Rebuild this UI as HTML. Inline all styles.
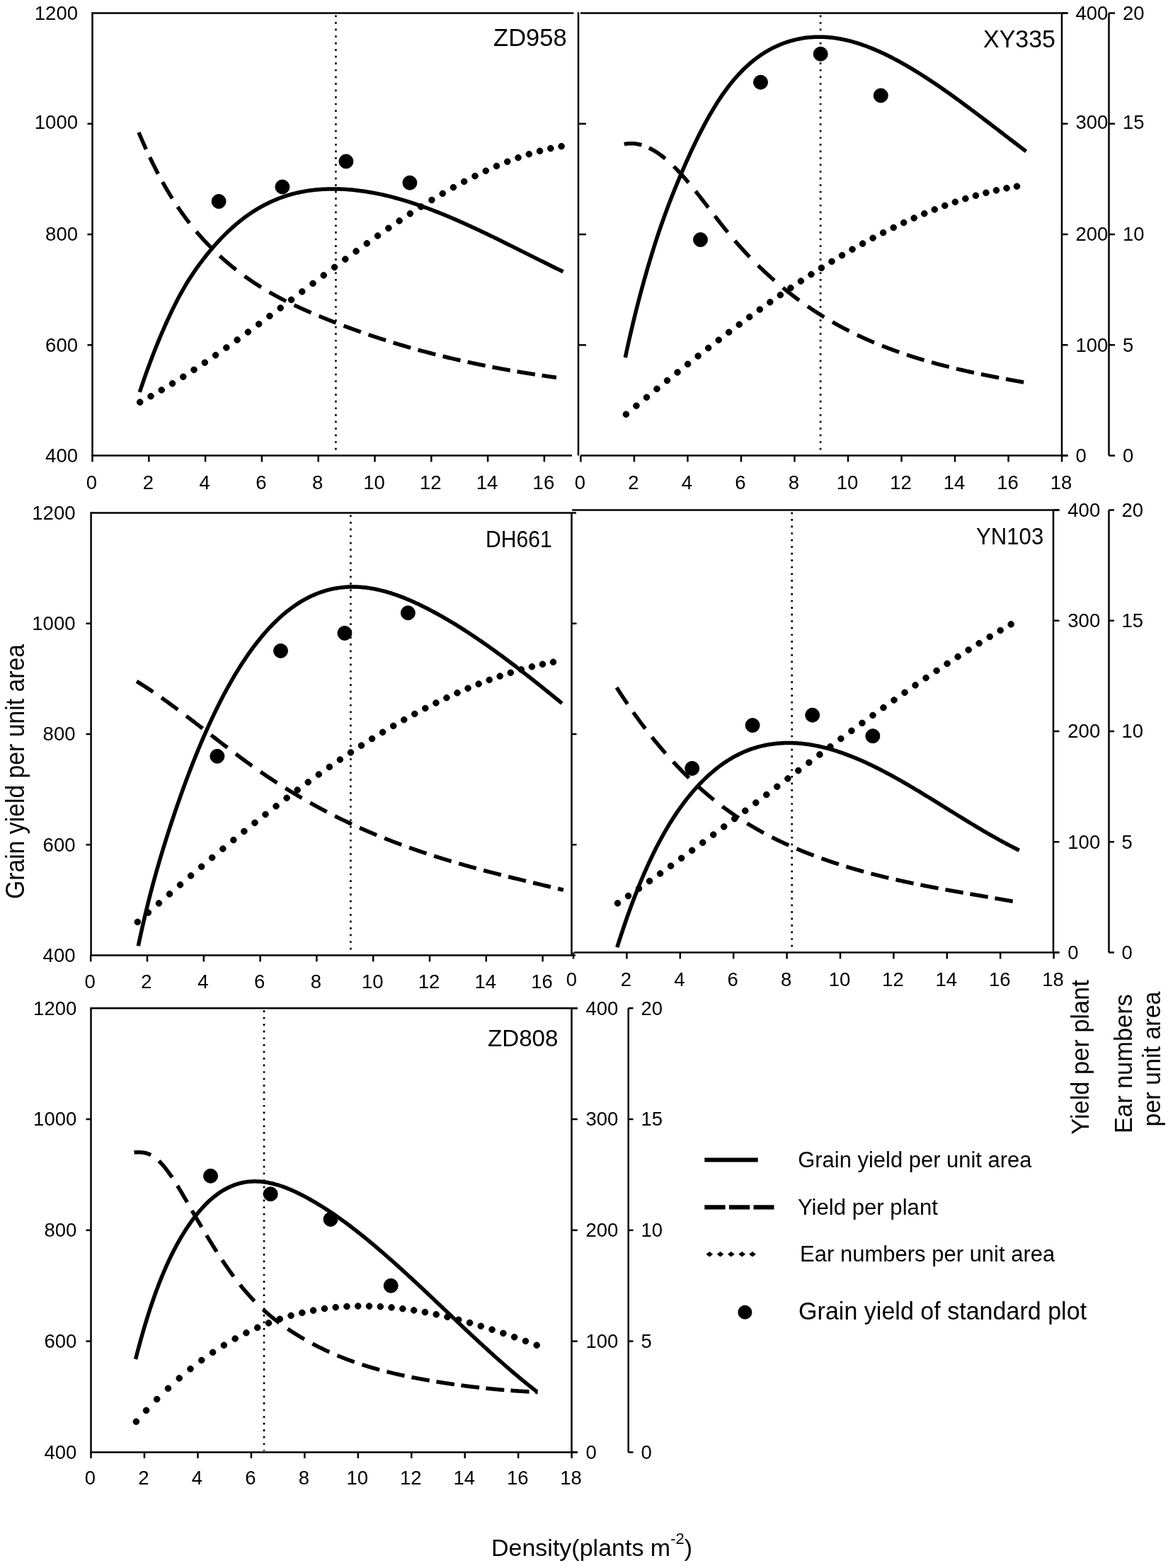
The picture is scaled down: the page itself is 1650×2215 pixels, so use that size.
<!DOCTYPE html>
<html><head><meta charset="utf-8"><title>Grain yield vs density</title>
<style>html,body{margin:0;padding:0;background:#fff;}svg{display:block;}</style></head>
<body><svg xmlns="http://www.w3.org/2000/svg" width="1650" height="2215" viewBox="0 0 1650 2215">
<rect width="1650" height="2215" fill="#fff"/>
<g stroke="#000" stroke-linecap="butt">
<line x1="130.50" y1="18.50" x2="810.30" y2="18.50" stroke-width="2.5"/>
<line x1="130.50" y1="17.30" x2="130.50" y2="644.80" stroke-width="2.5"/>
<line x1="129.30" y1="643.60" x2="808.00" y2="643.60" stroke-width="2.5"/>
<line x1="817.00" y1="17.30" x2="817.00" y2="643.60" stroke-width="2.5"/>
<line x1="123.50" y1="174.80" x2="130.50" y2="174.80" stroke-width="2.5"/>
<line x1="817.00" y1="174.80" x2="828.00" y2="174.80" stroke-width="2.5"/>
<line x1="123.50" y1="331.10" x2="130.50" y2="331.10" stroke-width="2.5"/>
<line x1="817.00" y1="331.10" x2="828.00" y2="331.10" stroke-width="2.5"/>
<line x1="123.50" y1="487.40" x2="130.50" y2="487.40" stroke-width="2.5"/>
<line x1="817.00" y1="487.40" x2="828.00" y2="487.40" stroke-width="2.5"/>
<line x1="130.50" y1="643.60" x2="130.50" y2="652.50" stroke-width="2.5"/>
<line x1="210.30" y1="643.60" x2="210.30" y2="652.50" stroke-width="2.5"/>
<line x1="290.10" y1="643.60" x2="290.10" y2="652.50" stroke-width="2.5"/>
<line x1="369.90" y1="643.60" x2="369.90" y2="652.50" stroke-width="2.5"/>
<line x1="449.70" y1="643.60" x2="449.70" y2="652.50" stroke-width="2.5"/>
<line x1="529.50" y1="643.60" x2="529.50" y2="652.50" stroke-width="2.5"/>
<line x1="609.30" y1="643.60" x2="609.30" y2="652.50" stroke-width="2.5"/>
<line x1="689.10" y1="643.60" x2="689.10" y2="652.50" stroke-width="2.5"/>
<line x1="768.90" y1="643.60" x2="768.90" y2="652.50" stroke-width="2.5"/>
<line x1="820.00" y1="18.50" x2="1508.50" y2="18.50" stroke-width="2.5"/>
<line x1="1500.00" y1="18.50" x2="1500.00" y2="643.60" stroke-width="2.5"/>
<line x1="820.00" y1="643.60" x2="1508.50" y2="643.60" stroke-width="2.5"/>
<line x1="820.40" y1="643.60" x2="820.40" y2="652.50" stroke-width="2.5"/>
<line x1="895.92" y1="643.60" x2="895.92" y2="652.50" stroke-width="2.5"/>
<line x1="971.44" y1="643.60" x2="971.44" y2="652.50" stroke-width="2.5"/>
<line x1="1046.96" y1="643.60" x2="1046.96" y2="652.50" stroke-width="2.5"/>
<line x1="1122.48" y1="643.60" x2="1122.48" y2="652.50" stroke-width="2.5"/>
<line x1="1198.00" y1="643.60" x2="1198.00" y2="652.50" stroke-width="2.5"/>
<line x1="1273.52" y1="643.60" x2="1273.52" y2="652.50" stroke-width="2.5"/>
<line x1="1349.04" y1="643.60" x2="1349.04" y2="652.50" stroke-width="2.5"/>
<line x1="1424.56" y1="643.60" x2="1424.56" y2="652.50" stroke-width="2.5"/>
<line x1="1500.08" y1="643.60" x2="1500.08" y2="652.50" stroke-width="2.5"/>
<line x1="1500.00" y1="18.50" x2="1508.50" y2="18.50" stroke-width="2.5"/>
<line x1="1566.50" y1="18.50" x2="1575.00" y2="18.50" stroke-width="2.5"/>
<line x1="1500.00" y1="174.78" x2="1508.50" y2="174.78" stroke-width="2.5"/>
<line x1="1566.50" y1="174.78" x2="1575.00" y2="174.78" stroke-width="2.5"/>
<line x1="1500.00" y1="331.05" x2="1508.50" y2="331.05" stroke-width="2.5"/>
<line x1="1566.50" y1="331.05" x2="1575.00" y2="331.05" stroke-width="2.5"/>
<line x1="1500.00" y1="487.33" x2="1508.50" y2="487.33" stroke-width="2.5"/>
<line x1="1566.50" y1="487.33" x2="1575.00" y2="487.33" stroke-width="2.5"/>
<line x1="1500.00" y1="643.60" x2="1508.50" y2="643.60" stroke-width="2.5"/>
<line x1="1566.50" y1="643.60" x2="1575.00" y2="643.60" stroke-width="2.5"/>
<line x1="1566.50" y1="18.50" x2="1566.50" y2="643.60" stroke-width="2.5"/>
<line x1="128.60" y1="724.50" x2="814.00" y2="724.50" stroke-width="2.5"/>
<line x1="128.60" y1="723.30" x2="128.60" y2="1350.70" stroke-width="2.5"/>
<line x1="127.40" y1="1349.50" x2="813.00" y2="1349.50" stroke-width="2.5"/>
<line x1="807.50" y1="724.50" x2="807.50" y2="1349.50" stroke-width="2.5"/>
<line x1="121.50" y1="880.75" x2="128.60" y2="880.75" stroke-width="2.5"/>
<line x1="807.50" y1="880.75" x2="814.50" y2="880.75" stroke-width="2.5"/>
<line x1="121.50" y1="1037.00" x2="128.60" y2="1037.00" stroke-width="2.5"/>
<line x1="807.50" y1="1037.00" x2="814.50" y2="1037.00" stroke-width="2.5"/>
<line x1="121.50" y1="1193.25" x2="128.60" y2="1193.25" stroke-width="2.5"/>
<line x1="807.50" y1="1193.25" x2="814.50" y2="1193.25" stroke-width="2.5"/>
<line x1="128.20" y1="1349.50" x2="128.20" y2="1358.50" stroke-width="2.5"/>
<line x1="208.00" y1="1349.50" x2="208.00" y2="1358.50" stroke-width="2.5"/>
<line x1="287.80" y1="1349.50" x2="287.80" y2="1358.50" stroke-width="2.5"/>
<line x1="367.60" y1="1349.50" x2="367.60" y2="1358.50" stroke-width="2.5"/>
<line x1="447.40" y1="1349.50" x2="447.40" y2="1358.50" stroke-width="2.5"/>
<line x1="527.20" y1="1349.50" x2="527.20" y2="1358.50" stroke-width="2.5"/>
<line x1="607.00" y1="1349.50" x2="607.00" y2="1358.50" stroke-width="2.5"/>
<line x1="686.80" y1="1349.50" x2="686.80" y2="1358.50" stroke-width="2.5"/>
<line x1="766.60" y1="1349.50" x2="766.60" y2="1358.50" stroke-width="2.5"/>
<line x1="808.20" y1="720.50" x2="1496.50" y2="720.50" stroke-width="2.5"/>
<line x1="1488.00" y1="720.50" x2="1488.00" y2="1345.50" stroke-width="2.5"/>
<line x1="811.00" y1="1345.50" x2="1496.50" y2="1345.50" stroke-width="2.5"/>
<line x1="810.00" y1="1345.50" x2="810.00" y2="1354.50" stroke-width="2.5"/>
<line x1="885.40" y1="1345.50" x2="885.40" y2="1354.50" stroke-width="2.5"/>
<line x1="960.80" y1="1345.50" x2="960.80" y2="1354.50" stroke-width="2.5"/>
<line x1="1036.20" y1="1345.50" x2="1036.20" y2="1354.50" stroke-width="2.5"/>
<line x1="1111.60" y1="1345.50" x2="1111.60" y2="1354.50" stroke-width="2.5"/>
<line x1="1187.00" y1="1345.50" x2="1187.00" y2="1354.50" stroke-width="2.5"/>
<line x1="1262.40" y1="1345.50" x2="1262.40" y2="1354.50" stroke-width="2.5"/>
<line x1="1337.80" y1="1345.50" x2="1337.80" y2="1354.50" stroke-width="2.5"/>
<line x1="1413.20" y1="1345.50" x2="1413.20" y2="1354.50" stroke-width="2.5"/>
<line x1="1488.60" y1="1345.50" x2="1488.60" y2="1354.50" stroke-width="2.5"/>
<line x1="1488.00" y1="720.50" x2="1496.50" y2="720.50" stroke-width="2.5"/>
<line x1="1566.50" y1="720.50" x2="1574.00" y2="720.50" stroke-width="2.5"/>
<line x1="1488.00" y1="876.75" x2="1496.50" y2="876.75" stroke-width="2.5"/>
<line x1="1566.50" y1="876.75" x2="1574.00" y2="876.75" stroke-width="2.5"/>
<line x1="1488.00" y1="1033.00" x2="1496.50" y2="1033.00" stroke-width="2.5"/>
<line x1="1566.50" y1="1033.00" x2="1574.00" y2="1033.00" stroke-width="2.5"/>
<line x1="1488.00" y1="1189.25" x2="1496.50" y2="1189.25" stroke-width="2.5"/>
<line x1="1566.50" y1="1189.25" x2="1574.00" y2="1189.25" stroke-width="2.5"/>
<line x1="1488.00" y1="1345.50" x2="1496.50" y2="1345.50" stroke-width="2.5"/>
<line x1="1566.50" y1="1345.50" x2="1574.00" y2="1345.50" stroke-width="2.5"/>
<line x1="1566.50" y1="720.50" x2="1566.50" y2="1345.50" stroke-width="2.5"/>
<line x1="128.50" y1="1424.20" x2="815.80" y2="1424.20" stroke-width="2.5"/>
<line x1="128.50" y1="1423.00" x2="128.50" y2="2052.70" stroke-width="2.5"/>
<line x1="127.30" y1="2051.50" x2="815.80" y2="2051.50" stroke-width="2.5"/>
<line x1="807.50" y1="1424.20" x2="807.50" y2="2051.50" stroke-width="2.5"/>
<line x1="121.50" y1="1581.03" x2="128.50" y2="1581.03" stroke-width="2.5"/>
<line x1="121.50" y1="1737.85" x2="128.50" y2="1737.85" stroke-width="2.5"/>
<line x1="121.50" y1="1894.68" x2="128.50" y2="1894.68" stroke-width="2.5"/>
<line x1="128.50" y1="2051.50" x2="128.50" y2="2060.00" stroke-width="2.5"/>
<line x1="203.96" y1="2051.50" x2="203.96" y2="2060.00" stroke-width="2.5"/>
<line x1="279.42" y1="2051.50" x2="279.42" y2="2060.00" stroke-width="2.5"/>
<line x1="354.88" y1="2051.50" x2="354.88" y2="2060.00" stroke-width="2.5"/>
<line x1="430.34" y1="2051.50" x2="430.34" y2="2060.00" stroke-width="2.5"/>
<line x1="505.80" y1="2051.50" x2="505.80" y2="2060.00" stroke-width="2.5"/>
<line x1="581.26" y1="2051.50" x2="581.26" y2="2060.00" stroke-width="2.5"/>
<line x1="656.72" y1="2051.50" x2="656.72" y2="2060.00" stroke-width="2.5"/>
<line x1="732.18" y1="2051.50" x2="732.18" y2="2060.00" stroke-width="2.5"/>
<line x1="807.64" y1="2051.50" x2="807.64" y2="2060.00" stroke-width="2.5"/>
<line x1="807.50" y1="1424.20" x2="815.80" y2="1424.20" stroke-width="2.5"/>
<line x1="887.70" y1="1424.20" x2="894.50" y2="1424.20" stroke-width="2.5"/>
<line x1="807.50" y1="1581.03" x2="815.80" y2="1581.03" stroke-width="2.5"/>
<line x1="887.70" y1="1581.03" x2="894.50" y2="1581.03" stroke-width="2.5"/>
<line x1="807.50" y1="1737.85" x2="815.80" y2="1737.85" stroke-width="2.5"/>
<line x1="887.70" y1="1737.85" x2="894.50" y2="1737.85" stroke-width="2.5"/>
<line x1="807.50" y1="1894.67" x2="815.80" y2="1894.67" stroke-width="2.5"/>
<line x1="887.70" y1="1894.67" x2="894.50" y2="1894.67" stroke-width="2.5"/>
<line x1="807.50" y1="2051.50" x2="815.80" y2="2051.50" stroke-width="2.5"/>
<line x1="887.70" y1="2051.50" x2="894.50" y2="2051.50" stroke-width="2.5"/>
<line x1="887.70" y1="1424.20" x2="887.70" y2="2051.50" stroke-width="2.5"/>
</g>
<g stroke="#000" fill="#000">
<line x1="474.40" y1="21.50" x2="474.40" y2="641.60" stroke-width="2.7" stroke-dasharray="2.7 6.85"/>
<circle cx="197.70" cy="568.09" r="4.3"/>
<circle cx="213.00" cy="559.73" r="4.3"/>
<circle cx="228.25" cy="550.96" r="4.3"/>
<circle cx="243.55" cy="541.77" r="4.3"/>
<circle cx="258.79" cy="532.24" r="4.3"/>
<circle cx="274.04" cy="522.38" r="4.3"/>
<circle cx="289.34" cy="512.18" r="4.3"/>
<circle cx="304.59" cy="501.74" r="4.3"/>
<circle cx="319.84" cy="491.06" r="4.3"/>
<circle cx="335.14" cy="480.13" r="4.3"/>
<circle cx="350.39" cy="469.05" r="4.3"/>
<circle cx="365.64" cy="457.83" r="4.3"/>
<circle cx="380.93" cy="446.44" r="4.3"/>
<circle cx="396.18" cy="435.01" r="4.3"/>
<circle cx="411.48" cy="423.47" r="4.3"/>
<circle cx="426.73" cy="411.95" r="4.3"/>
<circle cx="441.98" cy="400.43" r="4.3"/>
<circle cx="457.28" cy="388.91" r="4.3"/>
<circle cx="472.53" cy="377.49" r="4.3"/>
<circle cx="487.78" cy="366.16" r="4.3"/>
<circle cx="503.07" cy="354.92" r="4.3"/>
<circle cx="518.32" cy="343.88" r="4.3"/>
<circle cx="533.57" cy="333.02" r="4.3"/>
<circle cx="548.87" cy="322.34" r="4.3"/>
<circle cx="564.12" cy="311.95" r="4.3"/>
<circle cx="579.37" cy="301.84" r="4.3"/>
<circle cx="594.67" cy="292.00" r="4.3"/>
<circle cx="609.92" cy="282.54" r="4.3"/>
<circle cx="625.21" cy="273.42" r="4.3"/>
<circle cx="640.46" cy="264.73" r="4.3"/>
<circle cx="655.71" cy="256.48" r="4.3"/>
<circle cx="671.01" cy="248.66" r="4.3"/>
<circle cx="686.26" cy="241.36" r="4.3"/>
<circle cx="701.51" cy="234.59" r="4.3"/>
<circle cx="716.81" cy="228.35" r="4.3"/>
<circle cx="732.06" cy="222.72" r="4.3"/>
<circle cx="747.30" cy="217.70" r="4.3"/>
<circle cx="762.60" cy="213.32" r="4.3"/>
<circle cx="777.85" cy="209.63" r="4.3"/>
<circle cx="793.10" cy="206.65" r="4.3"/>
<path d="M196.00,187.06 L197.00,189.45 L198.00,191.81 L199.00,194.16 L200.00,196.48 L201.00,198.79 L202.00,201.07 L203.00,203.34 L204.00,205.59 L205.00,207.82 L206.00,210.03 L206.40,210.91 M211.60,222.07 L212.60,224.16 L213.60,226.24 L214.60,228.29 L215.60,230.33 L216.60,232.35 L217.60,234.35 L218.60,236.34 L219.60,238.31 L220.60,240.26 L221.60,242.19 L222.60,244.11 L223.40,245.63 M229.60,257.08 L230.60,258.87 L231.60,260.64 L232.60,262.40 L233.60,264.14 L234.60,265.86 L235.60,267.58 L236.60,269.27 L237.60,270.95 L238.60,272.62 L239.60,274.27 L240.60,275.91 L241.60,277.53 L242.60,279.14 L243.35,280.34 M251.00,292.11 L252.00,293.59 L253.00,295.06 L254.00,296.51 L255.00,297.95 L256.00,299.38 L257.00,300.80 L258.00,302.20 L259.00,303.59 L260.00,304.97 L261.00,306.34 L262.00,307.70 L263.00,309.04 L264.00,310.37 L265.00,311.69 L266.00,313.00 L267.00,314.30 L267.65,315.14 M277.35,327.09 L278.35,328.26 L279.35,329.43 L280.35,330.59 L281.35,331.74 L282.35,332.87 L283.35,334.00 L284.35,335.12 L285.35,336.23 L286.35,337.33 L287.35,338.43 L288.35,339.51 L289.35,340.58 L290.35,341.65 L291.35,342.71 L292.35,343.76 L293.35,344.80 L294.35,345.83 L295.35,346.86 L296.35,347.88 L297.35,348.89 L298.35,349.89 L298.50,350.04 M310.55,361.55 L311.55,362.47 L312.55,363.37 L313.55,364.27 L314.55,365.17 L315.55,366.06 L316.55,366.94 L317.55,367.82 L318.55,368.69 L319.55,369.56 L320.55,370.42 L321.55,371.27 L322.55,372.12 L323.55,372.96 L324.55,373.80 L325.55,374.63 L326.55,375.45 L327.55,376.27 L328.55,377.09 L329.55,377.90 L330.55,378.70 L331.55,379.50 L332.55,380.29 L333.55,381.08 L333.60,381.12 M345.55,390.13 L346.55,390.85 L347.55,391.57 L348.55,392.28 L349.55,392.98 L350.55,393.69 L351.55,394.38 L352.55,395.08 L353.55,395.77 L354.55,396.45 L355.55,397.13 L356.55,397.80 L357.55,398.47 L358.55,399.14 L359.55,399.80 L360.55,400.46 L361.55,401.11 L362.55,401.76 L363.55,402.40 L364.55,403.04 L365.55,403.68 L366.55,404.31 L367.55,404.94 L368.55,405.56 L368.85,405.75 M380.55,412.74 L381.55,413.32 L382.55,413.89 L383.55,414.46 L384.55,415.02 L385.55,415.58 L386.55,416.14 L387.55,416.69 L388.55,417.24 L389.55,417.79 L390.55,418.33 L391.55,418.87 L392.55,419.41 L393.55,419.94 L394.55,420.47 L395.55,421.00 L396.55,421.53 L397.55,422.05 L398.55,422.57 L399.55,423.08 L400.55,423.60 L401.55,424.11 L402.55,424.61 L403.55,425.12 L404.20,425.45 M415.55,430.97 L416.55,431.44 L417.55,431.91 L418.55,432.38 L419.55,432.84 L420.55,433.31 L421.55,433.77 L422.55,434.23 L423.55,434.68 L424.55,435.14 L425.55,435.59 L426.55,436.04 L427.55,436.49 L428.55,436.94 L429.55,437.38 L430.55,437.83 L431.55,438.27 L432.55,438.71 L433.55,439.15 L434.55,439.58 L435.55,440.02 L436.55,440.45 L437.55,440.88 L438.55,441.31 L439.45,441.70 M450.55,446.37 L451.55,446.79 L452.55,447.20 L453.55,447.61 L454.55,448.02 L455.55,448.43 L456.55,448.84 L457.55,449.25 L458.55,449.65 L459.55,450.06 L460.55,450.46 L461.55,450.87 L462.55,451.27 L463.55,451.67 L464.55,452.07 L465.55,452.47 L466.55,452.86 L467.55,453.26 L468.55,453.66 L469.55,454.05 L470.55,454.44 L471.55,454.83 L472.55,455.23 L473.55,455.61 L474.55,456.00 L474.65,456.04 M485.55,460.21 L486.55,460.58 L487.55,460.96 L488.55,461.33 L489.55,461.70 L490.55,462.08 L491.55,462.45 L492.55,462.82 L493.55,463.18 L494.55,463.55 L495.55,463.92 L496.55,464.28 L497.55,464.65 L498.55,465.01 L499.55,465.37 L500.55,465.73 L501.55,466.09 L502.55,466.45 L503.55,466.81 L504.55,467.17 L505.55,467.52 L506.55,467.88 L507.55,468.23 L508.55,468.59 L509.55,468.94 L509.80,469.03 M520.55,472.74 L521.55,473.08 L522.55,473.42 L523.55,473.76 L524.55,474.10 L525.55,474.43 L526.55,474.77 L527.55,475.10 L528.55,475.43 L529.55,475.76 L530.55,476.10 L531.55,476.43 L532.55,476.75 L533.55,477.08 L534.55,477.41 L535.55,477.74 L536.55,478.06 L537.55,478.38 L538.55,478.71 L539.55,479.03 L540.55,479.35 L541.55,479.67 L542.55,479.99 L543.55,480.31 L544.55,480.63 L545.00,480.77 M555.55,484.05 L556.55,484.36 L557.55,484.66 L558.55,484.97 L559.55,485.27 L560.55,485.57 L561.55,485.87 L562.55,486.17 L563.55,486.47 L564.55,486.77 L565.55,487.07 L566.55,487.37 L567.55,487.66 L568.55,487.96 L569.55,488.25 L570.55,488.54 L571.55,488.84 L572.55,489.13 L573.55,489.42 L574.55,489.71 L575.55,490.00 L576.55,490.28 L577.55,490.57 L578.55,490.85 L579.55,491.14 L580.15,491.31 M590.55,494.21 L591.55,494.49 L592.55,494.76 L593.55,495.03 L594.55,495.31 L595.55,495.58 L596.55,495.85 L597.55,496.11 L598.55,496.38 L599.55,496.65 L600.55,496.92 L601.55,497.18 L602.55,497.45 L603.55,497.71 L604.55,497.97 L605.55,498.24 L606.55,498.50 L607.55,498.76 L608.55,499.02 L609.55,499.27 L610.55,499.53 L611.55,499.79 L612.55,500.05 L613.55,500.30 L614.55,500.56 L615.35,500.76 M625.55,503.30 L626.55,503.54 L627.55,503.79 L628.55,504.03 L629.55,504.27 L630.55,504.51 L631.55,504.76 L632.55,505.00 L633.55,505.23 L634.55,505.47 L635.55,505.71 L636.55,505.95 L637.55,506.18 L638.55,506.42 L639.55,506.65 L640.55,506.88 L641.55,507.12 L642.55,507.35 L643.55,507.58 L644.55,507.81 L645.55,508.04 L646.55,508.27 L647.55,508.50 L648.55,508.72 L649.55,508.95 L650.50,509.16 M660.55,511.39 L661.55,511.60 L662.55,511.82 L663.55,512.04 L664.55,512.25 L665.55,512.47 L666.55,512.68 L667.55,512.89 L668.55,513.10 L669.55,513.31 L670.55,513.52 L671.55,513.73 L672.55,513.94 L673.55,514.15 L674.55,514.36 L675.55,514.57 L676.55,514.77 L677.55,514.98 L678.55,515.18 L679.55,515.39 L680.55,515.59 L681.55,515.79 L682.55,515.99 L683.55,516.19 L684.55,516.39 L685.55,516.59 L685.65,516.61 M695.55,518.55 L696.55,518.74 L697.55,518.93 L698.55,519.12 L699.55,519.31 L700.55,519.50 L701.55,519.69 L702.55,519.88 L703.55,520.06 L704.55,520.25 L705.55,520.44 L706.55,520.62 L707.55,520.81 L708.55,520.99 L709.55,521.17 L710.55,521.35 L711.55,521.54 L712.55,521.72 L713.55,521.90 L714.55,522.08 L715.55,522.26 L716.55,522.43 L717.55,522.61 L718.55,522.79 L719.55,522.97 L720.55,523.14 L720.80,523.18 M730.55,524.86 L731.55,525.03 L732.55,525.20 L733.55,525.37 L734.55,525.53 L735.55,525.70 L736.55,525.86 L737.55,526.03 L738.55,526.19 L739.55,526.36 L740.55,526.52 L741.55,526.68 L742.55,526.84 L743.55,527.01 L744.55,527.17 L745.55,527.33 L746.55,527.49 L747.55,527.64 L748.55,527.80 L749.55,527.96 L750.55,528.12 L751.55,528.27 L752.55,528.43 L753.55,528.58 L754.55,528.74 L755.55,528.89 L755.95,528.95 M765.55,530.40 L766.55,530.55 L767.55,530.69 L768.55,530.84 L769.55,530.99 L770.55,531.13 L771.55,531.28 L772.55,531.42 L773.55,531.56 L774.55,531.71 L775.55,531.85 L776.55,531.99 L777.55,532.13 L778.55,532.27 L779.55,532.42 L780.55,532.55 L781.55,532.69 L782.55,532.83 L783.55,532.97 L784.55,533.11 L785.55,533.25 L786.00,533.31" fill="none" stroke-width="5.5"/>
<path d="M197.30,553.98 L199.29,548.00 L201.29,542.11 L203.28,536.32 L205.28,530.63 L207.27,525.04 L209.26,519.53 L211.26,514.11 L213.25,508.78 L215.25,503.54 L217.24,498.38 L219.23,493.30 L221.23,488.30 L223.22,483.38 L225.22,478.54 L227.21,473.78 L229.20,469.10 L231.20,464.49 L233.19,459.96 L235.19,455.50 L237.18,451.12 L239.17,446.81 L241.17,442.58 L243.16,438.43 L245.16,434.35 L247.15,430.35 L249.14,426.43 L251.14,422.59 L253.13,418.83 L255.13,415.15 L257.12,411.56 L259.11,408.05 L261.11,404.62 L263.10,401.28 L265.10,398.02 L267.09,394.83 L269.08,391.72 L271.08,388.68 L273.07,385.70 L275.07,382.79 L277.06,379.94 L279.05,377.14 L281.05,374.39 L283.04,371.69 L285.04,369.04 L287.03,366.43 L289.02,363.86 L291.02,361.33 L293.01,358.84 L295.01,356.40 L297.00,354.00 L298.99,351.63 L300.99,349.31 L302.98,347.03 L304.98,344.79 L306.97,342.58 L308.96,340.42 L310.96,338.29 L312.95,336.21 L314.95,334.16 L316.94,332.15 L318.93,330.17 L320.93,328.24 L322.92,326.34 L324.92,324.48 L326.91,322.65 L328.90,320.86 L330.90,319.11 L332.89,317.39 L334.89,315.70 L336.88,314.06 L338.87,312.44 L340.87,310.86 L342.86,309.32 L344.86,307.80 L346.85,306.32 L348.84,304.88 L350.84,303.46 L352.83,302.08 L354.83,300.73 L356.82,299.42 L358.81,298.13 L360.81,296.88 L362.80,295.65 L364.80,294.46 L366.79,293.30 L368.78,292.16 L370.78,291.06 L372.77,289.99 L374.77,288.94 L376.76,287.93 L378.75,286.94 L380.75,285.98 L382.74,285.05 L384.74,284.14 L386.73,283.26 L388.72,282.41 L390.72,281.59 L392.71,280.79 L394.71,280.02 L396.70,279.28 L398.69,278.56 L400.69,277.86 L402.68,277.19 L404.68,276.54 L406.67,275.92 L408.66,275.32 L410.66,274.75 L412.65,274.20 L414.65,273.67 L416.64,273.16 L418.63,272.68 L420.63,272.22 L422.62,271.78 L424.62,271.36 L426.61,270.96 L428.60,270.58 L430.60,270.23 L432.59,269.89 L434.59,269.58 L436.58,269.28 L438.57,269.00 L440.57,268.74 L442.56,268.50 L444.56,268.28 L446.55,268.08 L448.54,267.89 L450.54,267.73 L452.53,267.58 L454.53,267.44 L456.52,267.32 L458.51,267.22 L460.51,267.14 L462.50,267.07 L464.50,267.01 L466.49,266.97 L468.48,266.95 L470.48,266.94 L472.47,266.94 L474.47,266.96 L476.46,266.99 L478.45,267.04 L480.45,267.10 L482.44,267.18 L484.44,267.27 L486.43,267.37 L488.42,267.49 L490.42,267.62 L492.41,267.77 L494.41,267.93 L496.40,268.10 L498.39,268.29 L500.39,268.48 L502.38,268.70 L504.38,268.92 L506.37,269.16 L508.36,269.41 L510.36,269.67 L512.35,269.95 L514.35,270.23 L516.34,270.53 L518.33,270.85 L520.33,271.17 L522.32,271.51 L524.32,271.85 L526.31,272.21 L528.30,272.58 L530.30,272.97 L532.29,273.36 L534.29,273.77 L536.28,274.18 L538.27,274.61 L540.27,275.05 L542.26,275.50 L544.26,275.96 L546.25,276.43 L548.24,276.92 L550.24,277.41 L552.23,277.91 L554.23,278.42 L556.22,278.95 L558.21,279.48 L560.21,280.02 L562.20,280.58 L564.20,281.14 L566.19,281.71 L568.18,282.29 L570.18,282.89 L572.17,283.49 L574.17,284.10 L576.16,284.72 L578.15,285.34 L580.15,285.98 L582.14,286.63 L584.14,287.28 L586.13,287.94 L588.12,288.61 L590.12,289.29 L592.11,289.98 L594.11,290.68 L596.10,291.38 L598.09,292.09 L600.09,292.81 L602.08,293.54 L604.08,294.27 L606.07,295.01 L608.06,295.76 L610.06,296.52 L612.05,297.29 L614.05,298.06 L616.04,298.83 L618.03,299.62 L620.03,300.41 L622.02,301.21 L624.02,302.01 L626.01,302.82 L628.00,303.64 L630.00,304.46 L631.99,305.29 L633.99,306.13 L635.98,306.97 L637.97,307.82 L639.97,308.67 L641.96,309.53 L643.96,310.39 L645.95,311.26 L647.94,312.14 L649.94,313.01 L651.93,313.90 L653.93,314.79 L655.92,315.68 L657.91,316.58 L659.91,317.48 L661.90,318.39 L663.90,319.30 L665.89,320.22 L667.88,321.14 L669.88,322.06 L671.87,322.99 L673.87,323.93 L675.86,324.86 L677.85,325.80 L679.85,326.74 L681.84,327.69 L683.84,328.64 L685.83,329.59 L687.82,330.55 L689.82,331.51 L691.81,332.47 L693.81,333.43 L695.80,334.40 L697.79,335.37 L699.79,336.34 L701.78,337.32 L703.78,338.29 L705.77,339.27 L707.76,340.25 L709.76,341.24 L711.75,342.22 L713.75,343.21 L715.74,344.19 L717.73,345.18 L719.73,346.17 L721.72,347.16 L723.72,348.16 L725.71,349.15 L727.70,350.15 L729.70,351.14 L731.69,352.14 L733.69,353.13 L735.68,354.13 L737.67,355.13 L739.67,356.13 L741.66,357.13 L743.66,358.12 L745.65,359.12 L747.64,360.12 L749.64,361.12 L751.63,362.12 L753.63,363.11 L755.62,364.11 L757.61,365.10 L759.61,366.10 L761.60,367.09 L763.60,368.09 L765.59,369.08 L767.58,370.07 L769.58,371.06 L771.57,372.05 L773.57,373.03 L775.56,374.02 L777.55,375.00 L779.55,375.98 L781.54,376.96 L783.54,377.94 L785.53,378.91 L787.52,379.88 L789.52,380.85 L791.51,381.82 L793.51,382.79 L795.50,383.75" fill="none" stroke-width="5.5" stroke-linejoin="round"/>
<circle cx="309.10" cy="284.50" r="10"/>
<circle cx="398.90" cy="264.00" r="10"/>
<circle cx="488.90" cy="228.00" r="10"/>
<circle cx="578.90" cy="258.20" r="10"/>
<line x1="1159.10" y1="21.50" x2="1159.10" y2="641.60" stroke-width="2.7" stroke-dasharray="2.7 6.85"/>
<circle cx="884.40" cy="585.25" r="4.3"/>
<circle cx="898.95" cy="573.22" r="4.3"/>
<circle cx="913.50" cy="561.25" r="4.3"/>
<circle cx="928.00" cy="549.40" r="4.3"/>
<circle cx="942.55" cy="537.60" r="4.3"/>
<circle cx="957.05" cy="525.93" r="4.3"/>
<circle cx="971.60" cy="514.34" r="4.3"/>
<circle cx="986.15" cy="502.86" r="4.3"/>
<circle cx="1000.65" cy="491.55" r="4.3"/>
<circle cx="1015.20" cy="480.34" r="4.3"/>
<circle cx="1029.70" cy="469.32" r="4.3"/>
<circle cx="1044.25" cy="458.42" r="4.3"/>
<circle cx="1058.75" cy="447.73" r="4.3"/>
<circle cx="1073.30" cy="437.18" r="4.3"/>
<circle cx="1087.85" cy="426.83" r="4.3"/>
<circle cx="1102.35" cy="416.71" r="4.3"/>
<circle cx="1116.90" cy="406.77" r="4.3"/>
<circle cx="1131.40" cy="397.08" r="4.3"/>
<circle cx="1145.95" cy="387.60" r="4.3"/>
<circle cx="1160.45" cy="378.39" r="4.3"/>
<circle cx="1175.00" cy="369.41" r="4.3"/>
<circle cx="1189.55" cy="360.69" r="4.3"/>
<circle cx="1204.05" cy="352.27" r="4.3"/>
<circle cx="1218.60" cy="344.11" r="4.3"/>
<circle cx="1233.10" cy="336.27" r="4.3"/>
<circle cx="1247.65" cy="328.71" r="4.3"/>
<circle cx="1262.20" cy="321.47" r="4.3"/>
<circle cx="1276.70" cy="314.58" r="4.3"/>
<circle cx="1291.25" cy="308.01" r="4.3"/>
<circle cx="1305.75" cy="301.80" r="4.3"/>
<circle cx="1320.30" cy="295.93" r="4.3"/>
<circle cx="1334.80" cy="290.45" r="4.3"/>
<circle cx="1349.35" cy="285.33" r="4.3"/>
<circle cx="1363.90" cy="280.60" r="4.3"/>
<circle cx="1378.40" cy="276.28" r="4.3"/>
<circle cx="1392.95" cy="272.36" r="4.3"/>
<circle cx="1407.45" cy="268.88" r="4.3"/>
<circle cx="1422.00" cy="265.81" r="4.3"/>
<circle cx="1436.50" cy="263.19" r="4.3"/>
<path d="M881.80,203.62 L882.80,203.42 L883.80,203.25 L884.80,203.11 L885.80,202.98 L886.80,202.87 L887.80,202.79 L888.80,202.72 L889.80,202.68 L890.80,202.66 L891.80,202.66 L892.80,202.68 L893.80,202.72 L894.80,202.78 L895.80,202.86 L896.80,202.96 L897.80,203.08 L898.80,203.22 L899.80,203.38 L900.80,203.55 L901.80,203.75 L902.80,203.97 L903.80,204.20 L904.80,204.46 L905.80,204.73 L906.40,204.90 M916.85,208.95 L917.85,209.44 L918.85,209.95 L919.85,210.47 L920.85,211.00 L921.85,211.56 L922.85,212.13 L923.85,212.71 L924.85,213.32 L925.85,213.93 L926.85,214.57 L927.85,215.22 L928.85,215.88 L929.85,216.56 L930.85,217.26 L931.85,217.97 L932.85,218.69 L933.85,219.43 L934.85,220.19 L935.85,220.96 L936.85,221.74 L937.85,222.54 L938.84,223.35 L939.84,224.17 M951.84,235.11 L952.84,236.11 L953.84,237.11 L954.84,238.13 L955.84,239.16 L956.84,240.20 L957.84,241.25 L958.84,242.31 L959.84,243.38 L960.84,244.46 L961.84,245.55 L962.84,246.66 L963.84,247.77 L964.84,248.89 L965.84,250.02 L966.84,251.16 L967.84,252.31 L968.84,253.46 L969.84,254.62 L970.84,255.80 L971.84,256.98 L972.79,258.10 M982.59,270.07 L983.59,271.33 L984.59,272.58 L985.59,273.84 L986.59,275.11 L987.59,276.37 L988.59,277.65 L989.59,278.92 L990.59,280.20 L991.59,281.48 L992.59,282.77 L993.59,284.05 L994.59,285.34 L995.59,286.63 L996.59,287.92 L997.59,289.22 L998.59,290.51 L999.59,291.81 L1000.59,293.11 L1000.64,293.17 M1009.84,305.10 L1010.84,306.39 L1011.84,307.68 L1012.84,308.96 L1013.84,310.25 L1014.84,311.53 L1015.84,312.81 L1016.84,314.08 L1017.84,315.35 L1018.84,316.62 L1019.84,317.89 L1020.84,319.15 L1021.84,320.41 L1022.84,321.66 L1023.84,322.90 L1024.84,324.15 L1025.84,325.38 L1026.84,326.61 L1027.84,327.84 L1028.04,328.08 M1038.14,340.10 L1039.14,341.25 L1040.14,342.40 L1041.14,343.54 L1042.14,344.68 L1043.14,345.81 L1044.14,346.94 L1045.14,348.06 L1046.14,349.17 L1047.14,350.28 L1048.14,351.38 L1049.14,352.47 L1050.14,353.56 L1051.14,354.65 L1052.14,355.73 L1053.13,356.80 L1054.13,357.87 L1055.13,358.93 L1056.13,359.99 L1057.13,361.04 L1058.13,362.08 L1059.03,363.02 M1070.98,375.04 L1071.98,376.02 L1072.98,376.99 L1073.98,377.95 L1074.98,378.91 L1075.98,379.86 L1076.98,380.81 L1077.98,381.75 L1078.98,382.69 L1079.98,383.63 L1080.98,384.56 L1081.98,385.48 L1082.98,386.40 L1083.98,387.32 L1084.98,388.23 L1085.98,389.14 L1086.98,390.04 L1087.98,390.94 L1088.98,391.83 L1089.98,392.72 L1090.98,393.60 L1091.98,394.48 L1092.98,395.36 L1093.93,396.19 M1105.98,406.37 L1106.98,407.19 L1107.98,408.00 L1108.98,408.82 L1109.98,409.62 L1110.98,410.43 L1111.98,411.22 L1112.98,412.02 L1113.98,412.81 L1114.98,413.60 L1115.98,414.38 L1116.98,415.16 L1117.98,415.94 L1118.98,416.71 L1119.98,417.48 L1120.98,418.24 L1121.98,419.00 L1122.98,419.76 L1123.98,420.51 L1124.98,421.26 L1125.98,422.01 L1126.98,422.75 L1127.98,423.49 L1128.98,424.22 L1129.08,424.29 M1140.98,432.75 L1141.98,433.44 L1142.98,434.13 L1143.98,434.81 L1144.98,435.48 L1145.98,436.16 L1146.98,436.83 L1147.98,437.50 L1148.98,438.16 L1149.98,438.82 L1150.98,439.48 L1151.98,440.13 L1152.98,440.78 L1153.98,441.43 L1154.98,442.07 L1155.98,442.71 L1156.98,443.35 L1157.98,443.98 L1158.98,444.61 L1159.98,445.24 L1160.98,445.86 L1161.98,446.48 L1162.98,447.10 L1163.98,447.72 L1164.33,447.93 M1175.97,454.84 L1176.97,455.41 L1177.97,455.98 L1178.97,456.55 L1179.97,457.12 L1180.97,457.68 L1181.97,458.24 L1182.97,458.79 L1183.97,459.35 L1184.97,459.90 L1185.97,460.44 L1186.97,460.99 L1187.97,461.53 L1188.97,462.07 L1189.97,462.60 L1190.97,463.14 L1191.97,463.67 L1192.97,464.19 L1193.97,464.72 L1194.97,465.24 L1195.97,465.76 L1196.97,466.27 L1197.97,466.79 L1198.97,467.30 L1199.57,467.60 M1210.97,473.22 L1211.97,473.69 L1212.97,474.17 L1213.97,474.64 L1214.97,475.11 L1215.97,475.57 L1216.97,476.04 L1217.97,476.50 L1218.97,476.96 L1219.97,477.41 L1220.97,477.87 L1221.97,478.32 L1222.97,478.77 L1223.97,479.21 L1224.97,479.66 L1225.97,480.10 L1226.97,480.54 L1227.97,480.98 L1228.97,481.41 L1229.97,481.84 L1230.97,482.27 L1231.97,482.70 L1232.97,483.13 L1233.97,483.55 L1234.92,483.95 M1245.97,488.46 L1246.97,488.86 L1247.97,489.25 L1248.97,489.64 L1249.97,490.03 L1250.97,490.42 L1251.97,490.81 L1252.97,491.19 L1253.97,491.57 L1254.97,491.95 L1255.97,492.33 L1256.97,492.70 L1257.97,493.08 L1258.97,493.45 L1259.97,493.82 L1260.97,494.19 L1261.97,494.55 L1262.97,494.92 L1263.97,495.28 L1264.97,495.64 L1265.97,496.00 L1266.97,496.35 L1267.97,496.71 L1268.97,497.06 L1269.97,497.41 L1270.22,497.50 M1280.96,501.17 L1281.96,501.50 L1282.96,501.83 L1283.96,502.16 L1284.96,502.49 L1285.96,502.81 L1286.96,503.13 L1287.96,503.45 L1288.96,503.77 L1289.96,504.09 L1290.96,504.41 L1291.96,504.73 L1292.96,505.04 L1293.96,505.35 L1294.96,505.66 L1295.96,505.97 L1296.96,506.28 L1297.96,506.59 L1298.96,506.89 L1299.96,507.19 L1300.96,507.50 L1301.96,507.80 L1302.96,508.10 L1303.96,508.39 L1304.96,508.69 L1305.51,508.85 M1315.96,511.85 L1316.96,512.13 L1317.96,512.41 L1318.96,512.69 L1319.96,512.96 L1320.96,513.23 L1321.96,513.51 L1322.96,513.78 L1323.96,514.05 L1324.96,514.32 L1325.96,514.59 L1326.96,514.85 L1327.96,515.12 L1328.96,515.38 L1329.96,515.64 L1330.96,515.90 L1331.96,516.17 L1332.96,516.42 L1333.96,516.68 L1334.96,516.94 L1335.96,517.19 L1336.96,517.45 L1337.96,517.70 L1338.96,517.95 L1339.96,518.20 L1340.76,518.40 M1350.96,520.89 L1351.96,521.13 L1352.96,521.36 L1353.96,521.60 L1354.96,521.83 L1355.96,522.07 L1356.96,522.30 L1357.96,522.53 L1358.96,522.76 L1359.96,522.99 L1360.96,523.22 L1361.96,523.44 L1362.96,523.67 L1363.96,523.90 L1364.96,524.12 L1365.96,524.35 L1366.96,524.57 L1367.96,524.79 L1368.96,525.01 L1369.96,525.23 L1370.96,525.45 L1371.96,525.67 L1372.96,525.89 L1373.96,526.10 L1374.96,526.32 L1375.96,526.53 L1376.01,526.54 M1385.96,528.64 L1386.96,528.84 L1387.96,529.05 L1388.96,529.25 L1389.96,529.46 L1390.96,529.66 L1391.96,529.86 L1392.96,530.06 L1393.95,530.26 L1394.95,530.46 L1395.95,530.66 L1396.95,530.86 L1397.95,531.06 L1398.95,531.26 L1399.95,531.46 L1400.95,531.65 L1401.95,531.85 L1402.95,532.04 L1403.95,532.24 L1404.95,532.43 L1405.95,532.62 L1406.95,532.82 L1407.95,533.01 L1408.95,533.20 L1409.95,533.39 L1410.95,533.58 L1411.15,533.62 M1420.95,535.46 L1421.95,535.64 L1422.95,535.82 L1423.95,536.01 L1424.95,536.19 L1425.95,536.37 L1426.95,536.56 L1427.95,536.74 L1428.95,536.92 L1429.95,537.10 L1430.95,537.28 L1431.95,537.46 L1432.95,537.64 L1433.95,537.82 L1434.95,538.00 L1435.95,538.18 L1436.95,538.36 L1437.95,538.54 L1438.95,538.72 L1439.95,538.90 L1440.95,539.07 L1441.95,539.25 L1442.95,539.43 L1443.95,539.60 L1444.95,539.78 L1445.95,539.96 L1446.20,540.00" fill="none" stroke-width="5.5"/>
<path d="M883.30,505.07 L885.29,495.76 L887.29,486.66 L889.28,477.77 L891.28,469.08 L893.27,460.58 L895.26,452.26 L897.26,444.12 L899.25,436.14 L901.25,428.33 L903.24,420.67 L905.23,413.16 L907.23,405.79 L909.22,398.56 L911.22,391.45 L913.21,384.46 L915.20,377.58 L917.20,370.82 L919.19,364.17 L921.19,357.64 L923.18,351.22 L925.17,344.92 L927.17,338.73 L929.16,332.66 L931.16,326.70 L933.15,320.85 L935.14,315.11 L937.14,309.47 L939.13,303.93 L941.13,298.48 L943.12,293.13 L945.11,287.86 L947.11,282.68 L949.10,277.57 L951.10,272.54 L953.09,267.58 L955.08,262.68 L957.08,257.84 L959.07,253.07 L961.07,248.34 L963.06,243.67 L965.05,239.05 L967.05,234.48 L969.04,229.96 L971.04,225.50 L973.03,221.09 L975.02,216.73 L977.02,212.43 L979.01,208.19 L981.01,204.01 L983.00,199.88 L984.99,195.81 L986.99,191.80 L988.98,187.86 L990.98,183.97 L992.97,180.14 L994.96,176.38 L996.96,172.68 L998.95,169.04 L1000.95,165.46 L1002.94,161.95 L1004.93,158.51 L1006.93,155.13 L1008.92,151.83 L1010.92,148.58 L1012.91,145.41 L1014.90,142.31 L1016.90,139.27 L1018.89,136.31 L1020.89,133.41 L1022.88,130.58 L1024.88,127.81 L1026.87,125.12 L1028.86,122.48 L1030.86,119.91 L1032.85,117.40 L1034.85,114.96 L1036.84,112.58 L1038.83,110.25 L1040.83,107.99 L1042.82,105.78 L1044.82,103.64 L1046.81,101.55 L1048.80,99.51 L1050.80,97.54 L1052.79,95.61 L1054.79,93.74 L1056.78,91.93 L1058.77,90.16 L1060.77,88.45 L1062.76,86.78 L1064.76,85.17 L1066.75,83.61 L1068.74,82.09 L1070.74,80.62 L1072.73,79.20 L1074.73,77.82 L1076.72,76.49 L1078.71,75.20 L1080.71,73.95 L1082.70,72.75 L1084.70,71.58 L1086.69,70.46 L1088.68,69.38 L1090.68,68.33 L1092.67,67.33 L1094.67,66.36 L1096.66,65.42 L1098.65,64.52 L1100.65,63.66 L1102.64,62.83 L1104.64,62.03 L1106.63,61.27 L1108.62,60.54 L1110.62,59.84 L1112.61,59.17 L1114.61,58.54 L1116.60,57.94 L1118.59,57.37 L1120.59,56.83 L1122.58,56.32 L1124.58,55.84 L1126.57,55.39 L1128.56,54.97 L1130.56,54.58 L1132.55,54.22 L1134.55,53.89 L1136.54,53.59 L1138.53,53.32 L1140.53,53.08 L1142.52,52.86 L1144.52,52.68 L1146.51,52.52 L1148.50,52.39 L1150.50,52.29 L1152.49,52.21 L1154.49,52.16 L1156.48,52.14 L1158.47,52.14 L1160.47,52.17 L1162.46,52.23 L1164.46,52.31 L1166.45,52.42 L1168.44,52.55 L1170.44,52.71 L1172.43,52.89 L1174.43,53.10 L1176.42,53.33 L1178.41,53.58 L1180.41,53.86 L1182.40,54.16 L1184.40,54.49 L1186.39,54.83 L1188.38,55.20 L1190.38,55.60 L1192.37,56.01 L1194.37,56.45 L1196.36,56.91 L1198.35,57.39 L1200.35,57.89 L1202.34,58.41 L1204.34,58.95 L1206.33,59.52 L1208.32,60.10 L1210.32,60.70 L1212.31,61.33 L1214.31,61.97 L1216.30,62.63 L1218.29,63.31 L1220.29,64.01 L1222.28,64.73 L1224.28,65.47 L1226.27,66.22 L1228.26,66.99 L1230.26,67.78 L1232.25,68.59 L1234.25,69.41 L1236.24,70.25 L1238.23,71.11 L1240.23,71.98 L1242.22,72.87 L1244.22,73.78 L1246.21,74.70 L1248.20,75.63 L1250.20,76.58 L1252.19,77.55 L1254.19,78.53 L1256.18,79.52 L1258.17,80.53 L1260.17,81.55 L1262.16,82.59 L1264.16,83.64 L1266.15,84.70 L1268.14,85.77 L1270.14,86.86 L1272.13,87.96 L1274.13,89.07 L1276.12,90.19 L1278.11,91.33 L1280.11,92.47 L1282.10,93.63 L1284.10,94.80 L1286.09,95.98 L1288.08,97.17 L1290.08,98.37 L1292.07,99.58 L1294.07,100.80 L1296.06,102.03 L1298.05,103.27 L1300.05,104.52 L1302.04,105.78 L1304.04,107.05 L1306.03,108.33 L1308.02,109.62 L1310.02,110.92 L1312.01,112.22 L1314.01,113.54 L1316.00,114.86 L1318.00,116.19 L1319.99,117.53 L1321.98,118.88 L1323.98,120.23 L1325.97,121.59 L1327.97,122.96 L1329.96,124.34 L1331.95,125.73 L1333.95,127.12 L1335.94,128.51 L1337.94,129.92 L1339.93,131.33 L1341.92,132.75 L1343.92,134.17 L1345.91,135.60 L1347.91,137.03 L1349.90,138.47 L1351.89,139.92 L1353.89,141.37 L1355.88,142.83 L1357.88,144.29 L1359.87,145.75 L1361.86,147.22 L1363.86,148.70 L1365.85,150.18 L1367.85,151.66 L1369.84,153.15 L1371.83,154.64 L1373.83,156.13 L1375.82,157.63 L1377.82,159.13 L1379.81,160.63 L1381.80,162.14 L1383.80,163.65 L1385.79,165.16 L1387.79,166.67 L1389.78,168.19 L1391.77,169.71 L1393.77,171.23 L1395.76,172.75 L1397.76,174.27 L1399.75,175.80 L1401.74,177.32 L1403.74,178.85 L1405.73,180.38 L1407.73,181.91 L1409.72,183.44 L1411.71,184.97 L1413.71,186.50 L1415.70,188.03 L1417.70,189.55 L1419.69,191.08 L1421.68,192.61 L1423.68,194.14 L1425.67,195.67 L1427.67,197.19 L1429.66,198.72 L1431.65,200.24 L1433.65,201.77 L1435.64,203.29 L1437.64,204.81 L1439.63,206.32 L1441.62,207.84 L1443.62,209.35 L1445.61,210.86 L1447.61,212.37 L1449.60,213.87" fill="none" stroke-width="5.5" stroke-linejoin="round"/>
<circle cx="989.50" cy="338.60" r="10"/>
<circle cx="1074.50" cy="116.20" r="10"/>
<circle cx="1159.20" cy="76.30" r="10"/>
<circle cx="1244.30" cy="134.90" r="10"/>
<line x1="495.40" y1="727.50" x2="495.40" y2="1347.50" stroke-width="2.7" stroke-dasharray="2.7 6.85"/>
<circle cx="194.30" cy="1302.41" r="4.3"/>
<circle cx="209.40" cy="1289.14" r="4.3"/>
<circle cx="224.45" cy="1275.98" r="4.3"/>
<circle cx="239.50" cy="1262.89" r="4.3"/>
<circle cx="254.55" cy="1249.90" r="4.3"/>
<circle cx="269.60" cy="1237.01" r="4.3"/>
<circle cx="284.65" cy="1224.23" r="4.3"/>
<circle cx="299.70" cy="1211.57" r="4.3"/>
<circle cx="314.80" cy="1199.00" r="4.3"/>
<circle cx="329.85" cy="1186.62" r="4.3"/>
<circle cx="344.90" cy="1174.40" r="4.3"/>
<circle cx="359.95" cy="1162.34" r="4.3"/>
<circle cx="375.00" cy="1150.45" r="4.3"/>
<circle cx="390.05" cy="1138.76" r="4.3"/>
<circle cx="405.10" cy="1127.26" r="4.3"/>
<circle cx="420.15" cy="1115.96" r="4.3"/>
<circle cx="435.25" cy="1104.85" r="4.3"/>
<circle cx="450.30" cy="1094.01" r="4.3"/>
<circle cx="465.35" cy="1083.41" r="4.3"/>
<circle cx="480.40" cy="1073.06" r="4.3"/>
<circle cx="495.45" cy="1062.97" r="4.3"/>
<circle cx="510.50" cy="1053.15" r="4.3"/>
<circle cx="525.55" cy="1043.61" r="4.3"/>
<circle cx="540.60" cy="1034.37" r="4.3"/>
<circle cx="555.70" cy="1025.41" r="4.3"/>
<circle cx="570.75" cy="1016.79" r="4.3"/>
<circle cx="585.80" cy="1008.49" r="4.3"/>
<circle cx="600.85" cy="1000.54" r="4.3"/>
<circle cx="615.90" cy="992.93" r="4.3"/>
<circle cx="630.95" cy="985.67" r="4.3"/>
<circle cx="646.00" cy="978.79" r="4.3"/>
<circle cx="661.05" cy="972.29" r="4.3"/>
<circle cx="676.15" cy="966.16" r="4.3"/>
<circle cx="691.20" cy="960.44" r="4.3"/>
<circle cx="706.25" cy="955.15" r="4.3"/>
<circle cx="721.30" cy="950.27" r="4.3"/>
<circle cx="736.35" cy="945.82" r="4.3"/>
<circle cx="751.40" cy="941.82" r="4.3"/>
<circle cx="766.45" cy="938.28" r="4.3"/>
<circle cx="781.50" cy="935.20" r="4.3"/>
<path d="M193.10,962.45 L194.10,963.07 L195.10,963.68 L196.10,964.30 L197.10,964.93 L198.10,965.56 L199.10,966.19 L200.10,966.82 L201.10,967.46 L202.10,968.09 L203.10,968.74 L204.10,969.38 L205.10,970.03 L206.10,970.68 L207.10,971.33 L208.10,971.99 L209.10,972.65 L210.10,973.31 L211.10,973.97 L212.10,974.64 L213.10,975.31 L214.10,975.98 L215.10,976.66 L216.10,977.33 L216.30,977.47 M228.10,985.64 L229.10,986.34 L230.10,987.05 L231.10,987.76 L232.10,988.48 L233.10,989.19 L234.10,989.91 L235.10,990.62 L236.10,991.34 L237.10,992.07 L238.10,992.79 L239.10,993.52 L240.10,994.24 L241.10,994.97 L242.10,995.70 L243.10,996.43 L244.10,997.17 L245.10,997.90 L246.10,998.64 L247.10,999.38 L248.10,1000.12 L249.10,1000.86 L250.10,1001.60 L251.10,1002.35 L251.20,1002.42 M263.10,1011.37 L264.10,1012.13 L265.10,1012.89 L266.10,1013.65 L267.10,1014.42 L268.10,1015.18 L269.10,1015.94 L270.10,1016.71 L271.10,1017.47 L272.10,1018.24 L273.10,1019.01 L274.10,1019.77 L275.10,1020.54 L276.10,1021.31 L277.10,1022.08 L278.10,1022.85 L279.10,1023.62 L280.10,1024.39 L281.10,1025.16 L282.10,1025.93 L283.10,1026.70 L284.10,1027.48 L285.10,1028.25 L286.10,1029.02 L286.20,1029.10 M298.15,1038.34 L299.15,1039.12 L300.15,1039.89 L301.15,1040.66 L302.15,1041.44 L303.15,1042.21 L304.15,1042.98 L305.15,1043.75 L306.15,1044.52 L307.15,1045.29 L308.15,1046.07 L309.15,1046.84 L310.15,1047.61 L311.15,1048.38 L312.15,1049.14 L313.15,1049.91 L314.15,1050.68 L315.15,1051.45 L316.15,1052.21 L317.15,1052.98 L318.15,1053.74 L319.15,1054.51 L320.15,1055.27 L321.15,1056.03 L321.20,1056.07 M333.10,1065.07 L334.10,1065.82 L335.10,1066.57 L336.10,1067.31 L337.10,1068.06 L338.10,1068.80 L339.10,1069.54 L340.10,1070.28 L341.10,1071.02 L342.10,1071.76 L343.10,1072.50 L344.10,1073.23 L345.10,1073.97 L346.10,1074.70 L347.10,1075.43 L348.10,1076.15 L349.10,1076.88 L350.10,1077.61 L351.10,1078.33 L352.10,1079.05 L353.10,1079.77 L354.10,1080.49 L355.10,1081.20 L356.10,1081.92 L356.25,1082.02 M368.15,1090.36 L369.15,1091.05 L370.15,1091.74 L371.15,1092.42 L372.15,1093.10 L373.15,1093.78 L374.15,1094.46 L375.15,1095.14 L376.15,1095.82 L377.15,1096.49 L378.15,1097.16 L379.15,1097.83 L380.15,1098.50 L381.15,1099.16 L382.15,1099.83 L383.15,1100.49 L384.15,1101.15 L385.15,1101.81 L386.15,1102.46 L387.15,1103.12 L388.15,1103.77 L389.15,1104.42 L390.15,1105.07 L391.15,1105.72 L391.40,1105.88 M403.15,1113.34 L404.15,1113.96 L405.15,1114.58 L406.15,1115.20 L407.15,1115.82 L408.15,1116.44 L409.15,1117.05 L410.15,1117.66 L411.15,1118.27 L412.15,1118.88 L413.15,1119.49 L414.15,1120.09 L415.15,1120.70 L416.15,1121.30 L417.15,1121.90 L418.15,1122.50 L419.15,1123.09 L420.15,1123.69 L421.15,1124.28 L422.15,1124.87 L423.15,1125.46 L424.15,1126.05 L425.15,1126.63 L426.15,1127.22 L426.55,1127.45 M438.15,1134.09 L439.15,1134.65 L440.15,1135.21 L441.15,1135.77 L442.15,1136.32 L443.15,1136.88 L444.15,1137.43 L445.15,1137.98 L446.15,1138.53 L447.15,1139.08 L448.15,1139.62 L449.15,1140.17 L450.15,1140.71 L451.15,1141.25 L452.15,1141.79 L453.15,1142.33 L454.15,1142.86 L455.15,1143.40 L456.15,1143.93 L457.15,1144.46 L458.15,1144.99 L459.15,1145.52 L460.15,1146.04 L461.15,1146.57 L461.70,1146.85 M473.10,1152.70 L474.10,1153.20 L475.10,1153.70 L476.10,1154.20 L477.10,1154.70 L478.10,1155.19 L479.10,1155.69 L480.10,1156.18 L481.10,1156.67 L482.10,1157.16 L483.10,1157.65 L484.10,1158.14 L485.10,1158.62 L486.10,1159.11 L487.10,1159.59 L488.10,1160.07 L489.10,1160.54 L490.10,1161.02 L491.10,1161.50 L492.10,1161.97 L493.10,1162.44 L494.10,1162.91 L495.10,1163.38 L496.10,1163.85 L496.90,1164.22 M508.10,1169.34 L509.10,1169.78 L510.10,1170.23 L511.10,1170.67 L512.10,1171.12 L513.10,1171.56 L514.10,1172.00 L515.10,1172.44 L516.10,1172.87 L517.10,1173.31 L518.10,1173.74 L519.10,1174.18 L520.10,1174.61 L521.10,1175.04 L522.10,1175.46 L523.10,1175.89 L524.10,1176.32 L525.10,1176.74 L526.10,1177.16 L527.10,1177.58 L528.10,1178.00 L529.10,1178.42 L530.10,1178.84 L531.10,1179.26 L532.10,1179.67 M543.15,1184.16 L544.15,1184.55 L545.15,1184.95 L546.15,1185.35 L547.15,1185.74 L548.15,1186.13 L549.15,1186.52 L550.15,1186.91 L551.15,1187.30 L552.15,1187.69 L553.15,1188.08 L554.15,1188.46 L555.15,1188.85 L556.15,1189.23 L557.15,1189.61 L558.15,1189.99 L559.15,1190.37 L560.15,1190.75 L561.15,1191.12 L562.15,1191.50 L563.15,1191.87 L564.15,1192.25 L565.15,1192.62 L566.15,1192.99 L567.15,1193.36 L567.30,1193.41 M578.15,1197.34 L579.15,1197.69 L580.15,1198.05 L581.15,1198.40 L582.15,1198.75 L583.15,1199.10 L584.15,1199.45 L585.15,1199.80 L586.15,1200.15 L587.15,1200.50 L588.15,1200.84 L589.15,1201.19 L590.15,1201.53 L591.15,1201.87 L592.15,1202.21 L593.15,1202.55 L594.15,1202.89 L595.15,1203.23 L596.15,1203.57 L597.15,1203.90 L598.15,1204.24 L599.15,1204.57 L600.15,1204.90 L601.15,1205.23 L602.15,1205.56 L602.50,1205.68 M613.15,1209.14 L614.15,1209.46 L615.15,1209.77 L616.15,1210.09 L617.15,1210.41 L618.15,1210.72 L619.15,1211.04 L620.15,1211.35 L621.15,1211.66 L622.15,1211.97 L623.15,1212.29 L624.15,1212.59 L625.15,1212.90 L626.15,1213.21 L627.15,1213.52 L628.15,1213.83 L629.15,1214.13 L630.15,1214.44 L631.15,1214.74 L632.15,1215.04 L633.15,1215.34 L634.15,1215.65 L635.15,1215.95 L636.15,1216.24 L637.15,1216.54 L637.65,1216.69 M648.15,1219.78 L649.15,1220.07 L650.15,1220.35 L651.15,1220.64 L652.15,1220.93 L653.15,1221.22 L654.15,1221.50 L655.15,1221.79 L656.15,1222.07 L657.15,1222.35 L658.15,1222.64 L659.15,1222.92 L660.15,1223.20 L661.15,1223.48 L662.15,1223.76 L663.15,1224.04 L664.15,1224.32 L665.15,1224.59 L666.15,1224.87 L667.15,1225.15 L668.15,1225.42 L669.15,1225.70 L670.15,1225.97 L671.15,1226.25 L672.15,1226.52 L672.80,1226.70 M683.15,1229.49 L684.15,1229.75 L685.15,1230.02 L686.15,1230.28 L687.15,1230.55 L688.15,1230.81 L689.15,1231.07 L690.15,1231.34 L691.15,1231.60 L692.15,1231.86 L693.15,1232.12 L694.15,1232.38 L695.15,1232.64 L696.15,1232.90 L697.15,1233.16 L698.15,1233.42 L699.15,1233.68 L700.15,1233.93 L701.15,1234.19 L702.15,1234.45 L703.15,1234.70 L704.15,1234.96 L705.15,1235.22 L706.15,1235.47 L707.15,1235.72 L707.90,1235.92 M718.10,1238.48 L719.10,1238.73 L720.10,1238.98 L721.10,1239.23 L722.10,1239.48 L723.10,1239.72 L724.10,1239.97 L725.10,1240.22 L726.10,1240.47 L727.10,1240.71 L728.10,1240.96 L729.10,1241.20 L730.10,1241.45 L731.10,1241.69 L732.10,1241.94 L733.10,1242.18 L734.10,1242.43 L735.10,1242.67 L736.10,1242.92 L737.10,1243.16 L738.10,1243.40 L739.10,1243.64 L740.10,1243.89 L741.10,1244.13 L742.10,1244.37 L743.00,1244.59 M753.10,1247.02 L754.10,1247.25 L755.10,1247.49 L756.10,1247.73 L757.10,1247.97 L758.10,1248.21 L759.10,1248.45 L760.10,1248.69 L761.10,1248.92 L762.10,1249.16 L763.10,1249.40 L764.10,1249.64 L765.10,1249.87 L766.10,1250.11 L767.10,1250.35 L768.10,1250.58 L769.10,1250.82 L770.10,1251.06 L771.10,1251.29 L772.10,1251.53 L773.10,1251.77 L774.10,1252.00 L775.10,1252.24 L776.10,1252.48 L777.10,1252.71 L778.00,1252.92 M788.10,1255.30 L789.10,1255.54 L790.10,1255.77 L791.10,1256.01 L792.10,1256.24 L793.10,1256.48 L794.10,1256.72 L795.10,1256.95 L796.00,1257.16" fill="none" stroke-width="5.5"/>
<path d="M195.30,1336.25 L197.30,1326.88 L199.29,1317.74 L201.29,1308.83 L203.28,1300.13 L205.28,1291.64 L207.27,1283.36 L209.27,1275.26 L211.26,1267.35 L213.26,1259.61 L215.25,1252.05 L217.25,1244.64 L219.24,1237.38 L221.24,1230.26 L223.23,1223.28 L225.23,1216.43 L227.22,1209.69 L229.22,1203.06 L231.21,1196.54 L233.21,1190.10 L235.20,1183.76 L237.20,1177.48 L239.19,1171.28 L241.19,1165.15 L243.18,1159.09 L245.18,1153.10 L247.17,1147.18 L249.17,1141.32 L251.16,1135.53 L253.16,1129.81 L255.15,1124.16 L257.15,1118.57 L259.14,1113.05 L261.13,1107.59 L263.13,1102.20 L265.12,1096.87 L267.12,1091.61 L269.12,1086.41 L271.11,1081.28 L273.11,1076.20 L275.10,1071.19 L277.10,1066.24 L279.09,1061.36 L281.09,1056.53 L283.08,1051.77 L285.08,1047.07 L287.07,1042.42 L289.06,1037.84 L291.06,1033.32 L293.06,1028.86 L295.05,1024.45 L297.05,1020.11 L299.04,1015.82 L301.04,1011.59 L303.03,1007.42 L305.03,1003.31 L307.02,999.26 L309.01,995.26 L311.01,991.32 L313.00,987.43 L315.00,983.60 L317.00,979.83 L318.99,976.11 L320.99,972.45 L322.98,968.84 L324.98,965.29 L326.97,961.79 L328.97,958.35 L330.96,954.95 L332.96,951.62 L334.95,948.33 L336.95,945.10 L338.94,941.92 L340.94,938.79 L342.93,935.71 L344.93,932.69 L346.92,929.71 L348.92,926.79 L350.91,923.92 L352.91,921.09 L354.90,918.32 L356.89,915.59 L358.89,912.92 L360.88,910.29 L362.88,907.71 L364.88,905.18 L366.87,902.70 L368.87,900.27 L370.86,897.88 L372.86,895.54 L374.85,893.25 L376.85,891.00 L378.84,888.80 L380.84,886.64 L382.83,884.53 L384.83,882.47 L386.82,880.45 L388.82,878.47 L390.81,876.54 L392.81,874.65 L394.80,872.80 L396.80,871.00 L398.79,869.24 L400.79,867.53 L402.78,865.85 L404.78,864.22 L406.77,862.63 L408.76,861.08 L410.76,859.57 L412.75,858.10 L414.75,856.67 L416.75,855.28 L418.74,853.93 L420.74,852.62 L422.73,851.35 L424.73,850.12 L426.72,848.93 L428.72,847.77 L430.71,846.65 L432.71,845.57 L434.70,844.53 L436.70,843.52 L438.69,842.55 L440.69,841.62 L442.68,840.72 L444.68,839.86 L446.67,839.03 L448.67,838.24 L450.66,837.49 L452.66,836.76 L454.65,836.08 L456.65,835.42 L458.64,834.80 L460.64,834.21 L462.63,833.66 L464.62,833.14 L466.62,832.65 L468.62,832.19 L470.61,831.77 L472.61,831.37 L474.60,831.01 L476.60,830.68 L478.59,830.38 L480.59,830.11 L482.58,829.87 L484.58,829.65 L486.57,829.47 L488.57,829.32 L490.56,829.20 L492.56,829.10 L494.55,829.03 L496.55,828.99 L498.54,828.98 L500.54,829.00 L502.53,829.04 L504.53,829.11 L506.52,829.20 L508.52,829.33 L510.51,829.47 L512.51,829.65 L514.50,829.85 L516.50,830.07 L518.49,830.32 L520.49,830.59 L522.48,830.88 L524.48,831.20 L526.47,831.55 L528.47,831.91 L530.46,832.30 L532.46,832.71 L534.45,833.15 L536.45,833.60 L538.44,834.08 L540.43,834.58 L542.43,835.10 L544.42,835.64 L546.42,836.20 L548.41,836.78 L550.41,837.38 L552.40,838.00 L554.40,838.64 L556.39,839.30 L558.39,839.98 L560.38,840.67 L562.38,841.39 L564.38,842.12 L566.37,842.86 L568.37,843.63 L570.36,844.41 L572.36,845.21 L574.35,846.03 L576.35,846.86 L578.34,847.71 L580.34,848.57 L582.33,849.44 L584.33,850.34 L586.32,851.24 L588.32,852.16 L590.31,853.10 L592.31,854.04 L594.30,855.01 L596.30,855.98 L598.29,856.97 L600.29,857.97 L602.28,858.98 L604.28,860.00 L606.27,861.03 L608.27,862.08 L610.26,863.14 L612.26,864.20 L614.25,865.28 L616.25,866.37 L618.24,867.47 L620.24,868.57 L622.23,869.69 L624.23,870.82 L626.22,871.96 L628.22,873.11 L630.21,874.27 L632.21,875.44 L634.20,876.61 L636.20,877.80 L638.19,879.00 L640.19,880.20 L642.18,881.42 L644.17,882.64 L646.17,883.88 L648.16,885.12 L650.16,886.37 L652.15,887.63 L654.15,888.90 L656.14,890.18 L658.14,891.46 L660.13,892.76 L662.13,894.06 L664.12,895.37 L666.12,896.69 L668.12,898.02 L670.11,899.35 L672.11,900.69 L674.10,902.04 L676.10,903.40 L678.09,904.77 L680.09,906.14 L682.08,907.52 L684.08,908.90 L686.07,910.30 L688.07,911.70 L690.06,913.11 L692.06,914.52 L694.05,915.94 L696.05,917.37 L698.04,918.81 L700.04,920.25 L702.03,921.70 L704.03,923.15 L706.02,924.61 L708.02,926.08 L710.01,927.55 L712.01,929.03 L714.00,930.51 L716.00,932.00 L717.99,933.50 L719.99,935.00 L721.98,936.50 L723.98,938.01 L725.97,939.53 L727.97,941.05 L729.96,942.58 L731.95,944.11 L733.95,945.65 L735.94,947.19 L737.94,948.73 L739.93,950.29 L741.93,951.84 L743.92,953.40 L745.92,954.96 L747.91,956.53 L749.91,958.10 L751.90,959.68 L753.90,961.26 L755.89,962.84 L757.89,964.43 L759.88,966.02 L761.88,967.61 L763.88,969.21 L765.87,970.81 L767.87,972.41 L769.86,974.02 L771.86,975.63 L773.85,977.24 L775.85,978.86 L777.84,980.48 L779.84,982.10 L781.83,983.72 L783.83,985.35 L785.82,986.98 L787.82,988.61 L789.81,990.24 L791.81,991.87 L793.80,993.51" fill="none" stroke-width="5.5" stroke-linejoin="round"/>
<circle cx="306.90" cy="1068.30" r="10"/>
<circle cx="396.50" cy="919.40" r="10"/>
<circle cx="486.90" cy="894.40" r="10"/>
<circle cx="576.40" cy="865.80" r="10"/>
<line x1="1118.70" y1="723.50" x2="1118.70" y2="1343.50" stroke-width="2.7" stroke-dasharray="2.7 6.85"/>
<circle cx="872.50" cy="1275.91" r="4.3"/>
<circle cx="887.55" cy="1265.64" r="4.3"/>
<circle cx="902.55" cy="1255.24" r="4.3"/>
<circle cx="917.60" cy="1244.67" r="4.3"/>
<circle cx="932.60" cy="1234.01" r="4.3"/>
<circle cx="947.60" cy="1223.23" r="4.3"/>
<circle cx="962.65" cy="1212.30" r="4.3"/>
<circle cx="977.65" cy="1201.32" r="4.3"/>
<circle cx="992.70" cy="1190.22" r="4.3"/>
<circle cx="1007.70" cy="1179.08" r="4.3"/>
<circle cx="1022.70" cy="1167.87" r="4.3"/>
<circle cx="1037.75" cy="1156.58" r="4.3"/>
<circle cx="1052.75" cy="1145.28" r="4.3"/>
<circle cx="1067.75" cy="1133.96" r="4.3"/>
<circle cx="1082.80" cy="1122.58" r="4.3"/>
<circle cx="1097.80" cy="1111.23" r="4.3"/>
<circle cx="1112.85" cy="1099.85" r="4.3"/>
<circle cx="1127.85" cy="1088.52" r="4.3"/>
<circle cx="1142.85" cy="1077.21" r="4.3"/>
<circle cx="1157.90" cy="1065.91" r="4.3"/>
<circle cx="1172.90" cy="1054.69" r="4.3"/>
<circle cx="1187.90" cy="1043.53" r="4.3"/>
<circle cx="1202.95" cy="1032.40" r="4.3"/>
<circle cx="1217.95" cy="1021.39" r="4.3"/>
<circle cx="1233.00" cy="1010.44" r="4.3"/>
<circle cx="1248.00" cy="999.63" r="4.3"/>
<circle cx="1263.00" cy="988.93" r="4.3"/>
<circle cx="1278.05" cy="978.32" r="4.3"/>
<circle cx="1293.05" cy="967.89" r="4.3"/>
<circle cx="1308.05" cy="957.60" r="4.3"/>
<circle cx="1323.10" cy="947.44" r="4.3"/>
<circle cx="1338.10" cy="937.48" r="4.3"/>
<circle cx="1353.15" cy="927.67" r="4.3"/>
<circle cx="1368.15" cy="918.08" r="4.3"/>
<circle cx="1383.15" cy="908.70" r="4.3"/>
<circle cx="1398.20" cy="899.50" r="4.3"/>
<circle cx="1413.20" cy="890.55" r="4.3"/>
<circle cx="1428.20" cy="881.85" r="4.3"/>
<path d="M871.10,971.23 L872.10,972.79 L873.10,974.35 L874.10,975.90 L875.10,977.45 L876.10,978.98 L877.10,980.52 L878.10,982.04 L879.10,983.56 L880.10,985.07 L881.10,986.57 L882.10,988.07 L883.10,989.56 L884.10,991.04 L885.10,992.52 L886.10,993.99 L886.40,994.43 M894.60,1006.23 L895.60,1007.64 L896.60,1009.04 L897.60,1010.44 L898.60,1011.83 L899.60,1013.21 L900.60,1014.59 L901.60,1015.96 L902.60,1017.32 L903.60,1018.68 L904.60,1020.03 L905.60,1021.38 L906.60,1022.72 L907.60,1024.05 L908.60,1025.38 L909.60,1026.70 L910.60,1028.01 L911.60,1029.32 M920.95,1041.26 L921.95,1042.51 L922.95,1043.75 L923.95,1044.98 L924.95,1046.21 L925.95,1047.43 L926.95,1048.65 L927.95,1049.86 L928.95,1051.06 L929.95,1052.26 L930.95,1053.46 L931.95,1054.64 L932.95,1055.83 L933.95,1057.00 L934.95,1058.17 L935.95,1059.34 L936.95,1060.50 L937.95,1061.65 L938.95,1062.80 L939.95,1063.94 L940.20,1064.23 M951.05,1076.25 L952.05,1077.33 L953.05,1078.40 L954.05,1079.46 L955.05,1080.52 L956.05,1081.58 L957.05,1082.62 L958.05,1083.67 L959.05,1084.71 L960.05,1085.74 L961.05,1086.77 L962.05,1087.79 L963.05,1088.81 L964.05,1089.82 L965.05,1090.83 L966.05,1091.83 L967.05,1092.83 L968.05,1093.82 L969.05,1094.81 L970.05,1095.79 L971.05,1096.77 L972.05,1097.74 L973.05,1098.71 L973.40,1099.05 M985.45,1110.29 L986.45,1111.20 L987.45,1112.09 L988.45,1112.99 L989.45,1113.87 L990.45,1114.76 L991.45,1115.64 L992.45,1116.51 L993.45,1117.38 L994.45,1118.24 L995.45,1119.10 L996.45,1119.96 L997.45,1120.81 L998.45,1121.66 L999.45,1122.50 L1000.45,1123.34 L1001.45,1124.17 L1002.45,1125.00 L1003.45,1125.82 L1004.45,1126.64 L1005.45,1127.46 L1006.45,1128.27 L1007.45,1129.08 L1008.45,1129.88 L1008.50,1129.92 M1020.45,1139.18 L1021.45,1139.93 L1022.45,1140.67 L1023.45,1141.41 L1024.45,1142.14 L1025.45,1142.88 L1026.45,1143.60 L1027.45,1144.33 L1028.45,1145.05 L1029.45,1145.76 L1030.45,1146.47 L1031.45,1147.18 L1032.45,1147.89 L1033.45,1148.59 L1034.45,1149.28 L1035.45,1149.98 L1036.45,1150.66 L1037.45,1151.35 L1038.45,1152.03 L1039.45,1152.71 L1040.45,1153.38 L1041.45,1154.05 L1042.45,1154.72 L1043.45,1155.38 L1043.70,1155.55 M1055.45,1163.05 L1056.45,1163.67 L1057.45,1164.28 L1058.45,1164.89 L1059.45,1165.50 L1060.45,1166.10 L1061.45,1166.70 L1062.45,1167.29 L1063.45,1167.89 L1064.45,1168.48 L1065.45,1169.06 L1066.45,1169.65 L1067.45,1170.23 L1068.45,1170.80 L1069.45,1171.38 L1070.45,1171.95 L1071.45,1172.51 L1072.45,1173.08 L1073.45,1173.64 L1074.45,1174.19 L1075.45,1174.75 L1076.45,1175.30 L1077.45,1175.85 L1078.45,1176.39 L1079.00,1176.69 M1090.45,1182.71 L1091.45,1183.22 L1092.45,1183.72 L1093.45,1184.23 L1094.45,1184.72 L1095.45,1185.22 L1096.45,1185.72 L1097.45,1186.21 L1098.45,1186.70 L1099.45,1187.18 L1100.45,1187.67 L1101.45,1188.15 L1102.45,1188.62 L1103.45,1189.10 L1104.45,1189.57 L1105.45,1190.04 L1106.45,1190.51 L1107.45,1190.98 L1108.45,1191.44 L1109.45,1191.90 L1110.45,1192.36 L1111.45,1192.82 L1112.45,1193.27 L1113.45,1193.72 L1114.30,1194.10 M1125.45,1198.96 L1126.45,1199.38 L1127.45,1199.80 L1128.45,1200.21 L1129.45,1200.63 L1130.45,1201.04 L1131.45,1201.46 L1132.45,1201.87 L1133.45,1202.27 L1134.45,1202.68 L1135.45,1203.08 L1136.45,1203.48 L1137.45,1203.88 L1138.45,1204.28 L1139.45,1204.68 L1140.45,1205.07 L1141.45,1205.46 L1142.45,1205.85 L1143.45,1206.24 L1144.45,1206.63 L1145.45,1207.01 L1146.45,1207.40 L1147.45,1207.78 L1148.45,1208.16 L1149.45,1208.53 L1149.60,1208.59 M1160.45,1212.58 L1161.45,1212.94 L1162.45,1213.29 L1163.45,1213.65 L1164.45,1214.00 L1165.45,1214.35 L1166.45,1214.70 L1167.45,1215.05 L1168.45,1215.40 L1169.45,1215.74 L1170.45,1216.08 L1171.45,1216.43 L1172.45,1216.77 L1173.45,1217.11 L1174.45,1217.44 L1175.45,1217.78 L1176.45,1218.11 L1177.45,1218.44 L1178.45,1218.78 L1179.45,1219.11 L1180.45,1219.43 L1181.45,1219.76 L1182.45,1220.08 L1183.45,1220.41 L1184.45,1220.73 L1184.90,1220.88 M1195.45,1224.18 L1196.45,1224.48 L1197.45,1224.79 L1198.45,1225.09 L1199.45,1225.39 L1200.45,1225.69 L1201.45,1225.99 L1202.45,1226.28 L1203.45,1226.58 L1204.45,1226.87 L1205.45,1227.17 L1206.45,1227.46 L1207.45,1227.75 L1208.45,1228.04 L1209.45,1228.33 L1210.45,1228.61 L1211.45,1228.90 L1212.45,1229.18 L1213.45,1229.46 L1214.45,1229.74 L1215.45,1230.02 L1216.45,1230.30 L1217.45,1230.58 L1218.45,1230.86 L1219.45,1231.13 L1220.15,1231.32 M1230.45,1234.08 L1231.45,1234.34 L1232.45,1234.60 L1233.45,1234.86 L1234.45,1235.12 L1235.45,1235.37 L1236.45,1235.63 L1237.45,1235.88 L1238.45,1236.13 L1239.45,1236.39 L1240.45,1236.64 L1241.45,1236.89 L1242.45,1237.14 L1243.45,1237.38 L1244.45,1237.63 L1245.45,1237.88 L1246.45,1238.12 L1247.45,1238.37 L1248.45,1238.61 L1249.45,1238.85 L1250.45,1239.09 L1251.45,1239.33 L1252.45,1239.57 L1253.45,1239.81 L1254.45,1240.04 L1255.35,1240.26 M1265.45,1242.59 L1266.45,1242.81 L1267.45,1243.04 L1268.45,1243.26 L1269.45,1243.48 L1270.45,1243.71 L1271.45,1243.93 L1272.45,1244.15 L1273.45,1244.37 L1274.45,1244.59 L1275.45,1244.81 L1276.45,1245.02 L1277.45,1245.24 L1278.45,1245.45 L1279.45,1245.67 L1280.45,1245.88 L1281.45,1246.10 L1282.45,1246.31 L1283.45,1246.52 L1284.45,1246.73 L1285.45,1246.94 L1286.45,1247.15 L1287.45,1247.36 L1288.45,1247.57 L1289.45,1247.78 L1290.45,1247.98 L1290.55,1248.00 M1300.45,1250.01 L1301.45,1250.21 L1302.45,1250.41 L1303.45,1250.61 L1304.45,1250.80 L1305.45,1251.00 L1306.45,1251.20 L1307.45,1251.39 L1308.45,1251.59 L1309.45,1251.78 L1310.45,1251.98 L1311.45,1252.17 L1312.45,1252.36 L1313.45,1252.55 L1314.45,1252.74 L1315.45,1252.94 L1316.45,1253.13 L1317.45,1253.32 L1318.45,1253.51 L1319.45,1253.70 L1320.45,1253.88 L1321.45,1254.07 L1322.45,1254.26 L1323.45,1254.45 L1324.45,1254.63 L1325.45,1254.82 L1325.65,1254.86 M1335.45,1256.66 L1336.45,1256.84 L1337.45,1257.02 L1338.45,1257.20 L1339.45,1257.38 L1340.45,1257.56 L1341.45,1257.74 L1342.45,1257.92 L1343.45,1258.10 L1344.45,1258.28 L1345.45,1258.46 L1346.45,1258.63 L1347.45,1258.81 L1348.45,1258.99 L1349.45,1259.17 L1350.45,1259.34 L1351.45,1259.52 L1352.45,1259.70 L1353.45,1259.87 L1354.45,1260.05 L1355.45,1260.22 L1356.45,1260.40 L1357.45,1260.57 L1358.45,1260.75 L1359.45,1260.92 L1360.45,1261.10 L1360.75,1261.15 M1370.45,1262.83 L1371.45,1263.00 L1372.45,1263.18 L1373.45,1263.35 L1374.45,1263.52 L1375.45,1263.69 L1376.45,1263.86 L1377.45,1264.04 L1378.45,1264.21 L1379.45,1264.38 L1380.45,1264.55 L1381.45,1264.72 L1382.45,1264.89 L1383.45,1265.07 L1384.45,1265.24 L1385.45,1265.41 L1386.45,1265.58 L1387.45,1265.75 L1388.45,1265.92 L1389.45,1266.09 L1390.45,1266.27 L1391.45,1266.44 L1392.45,1266.61 L1393.45,1266.78 L1394.45,1266.95 L1395.45,1267.12 L1395.75,1267.17 M1405.45,1268.84 L1406.45,1269.01 L1407.45,1269.19 L1408.45,1269.36 L1409.45,1269.53 L1410.45,1269.71 L1411.45,1269.88 L1412.45,1270.05 L1413.45,1270.22 L1414.45,1270.40 L1415.45,1270.57 L1416.45,1270.75 L1417.45,1270.92 L1418.45,1271.09 L1419.45,1271.27 L1420.45,1271.44 L1421.45,1271.62 L1422.45,1271.79 L1423.45,1271.97 L1424.45,1272.15 L1425.45,1272.32 L1426.45,1272.50 L1427.45,1272.67 L1428.45,1272.85 L1429.45,1273.03 L1430.45,1273.21 L1430.70,1273.25" fill="none" stroke-width="5.5"/>
<path d="M871.80,1338.25 L873.80,1331.92 L875.80,1325.68 L877.80,1319.55 L879.80,1313.52 L881.80,1307.58 L883.80,1301.75 L885.80,1296.01 L887.80,1290.37 L889.80,1284.82 L891.80,1279.37 L893.80,1274.01 L895.80,1268.74 L897.80,1263.56 L899.80,1258.47 L901.80,1253.47 L903.80,1248.56 L905.80,1243.74 L907.80,1239.00 L909.80,1234.35 L911.80,1229.78 L913.80,1225.29 L915.80,1220.88 L917.80,1216.56 L919.80,1212.31 L921.80,1208.15 L923.80,1204.06 L925.80,1200.05 L927.80,1196.11 L929.80,1192.25 L931.80,1188.46 L933.80,1184.75 L935.80,1181.11 L937.80,1177.53 L939.80,1174.03 L941.80,1170.60 L943.80,1167.23 L945.80,1163.93 L947.80,1160.69 L949.80,1157.52 L951.80,1154.42 L953.80,1151.37 L955.80,1148.39 L957.80,1145.47 L959.80,1142.61 L961.80,1139.80 L963.80,1137.05 L965.80,1134.36 L967.80,1131.73 L969.80,1129.15 L971.80,1126.62 L973.80,1124.15 L975.80,1121.72 L977.80,1119.35 L979.80,1117.02 L981.80,1114.75 L983.80,1112.52 L985.80,1110.34 L987.80,1108.20 L989.80,1106.11 L991.80,1104.07 L993.80,1102.07 L995.80,1100.11 L997.80,1098.20 L999.80,1096.33 L1001.80,1094.50 L1003.80,1092.72 L1005.80,1090.98 L1007.80,1089.28 L1009.80,1087.63 L1011.80,1086.01 L1013.80,1084.44 L1015.80,1082.91 L1017.80,1081.41 L1019.80,1079.96 L1021.80,1078.55 L1023.80,1077.17 L1025.80,1075.84 L1027.80,1074.54 L1029.80,1073.28 L1031.80,1072.06 L1033.80,1070.87 L1035.80,1069.72 L1037.80,1068.61 L1039.80,1067.53 L1041.80,1066.49 L1043.80,1065.49 L1045.80,1064.52 L1047.80,1063.58 L1049.80,1062.68 L1051.80,1061.81 L1053.80,1060.97 L1055.80,1060.17 L1057.80,1059.40 L1059.80,1058.66 L1061.80,1057.96 L1063.80,1057.28 L1065.80,1056.64 L1067.80,1056.02 L1069.80,1055.44 L1071.80,1054.89 L1073.80,1054.36 L1075.80,1053.87 L1077.80,1053.40 L1079.80,1052.97 L1081.80,1052.56 L1083.80,1052.17 L1085.80,1051.82 L1087.80,1051.49 L1089.80,1051.19 L1091.80,1050.91 L1093.80,1050.66 L1095.80,1050.44 L1097.80,1050.24 L1099.80,1050.06 L1101.80,1049.91 L1103.80,1049.78 L1105.80,1049.67 L1107.80,1049.59 L1109.80,1049.53 L1111.80,1049.50 L1113.80,1049.48 L1115.80,1049.49 L1117.80,1049.52 L1119.80,1049.57 L1121.80,1049.65 L1123.80,1049.74 L1125.80,1049.86 L1127.80,1050.00 L1129.80,1050.16 L1131.80,1050.34 L1133.80,1050.54 L1135.80,1050.76 L1137.80,1051.00 L1139.80,1051.26 L1141.80,1051.54 L1143.80,1051.84 L1145.80,1052.16 L1147.80,1052.50 L1149.80,1052.85 L1151.80,1053.23 L1153.80,1053.62 L1155.80,1054.04 L1157.80,1054.47 L1159.80,1054.92 L1161.80,1055.38 L1163.80,1055.87 L1165.80,1056.37 L1167.80,1056.89 L1169.80,1057.42 L1171.80,1057.97 L1173.80,1058.54 L1175.80,1059.13 L1177.80,1059.73 L1179.80,1060.34 L1181.80,1060.98 L1183.80,1061.62 L1185.80,1062.29 L1187.80,1062.97 L1189.80,1063.66 L1191.80,1064.37 L1193.80,1065.09 L1195.80,1065.83 L1197.80,1066.58 L1199.80,1067.34 L1201.80,1068.12 L1203.80,1068.91 L1205.80,1069.72 L1207.80,1070.54 L1209.80,1071.37 L1211.80,1072.21 L1213.80,1073.07 L1215.80,1073.94 L1217.80,1074.82 L1219.80,1075.71 L1221.80,1076.62 L1223.80,1077.54 L1225.80,1078.46 L1227.80,1079.40 L1229.80,1080.35 L1231.80,1081.31 L1233.80,1082.28 L1235.80,1083.26 L1237.80,1084.26 L1239.80,1085.26 L1241.80,1086.27 L1243.80,1087.29 L1245.80,1088.32 L1247.80,1089.36 L1249.80,1090.41 L1251.80,1091.46 L1253.80,1092.53 L1255.80,1093.60 L1257.80,1094.68 L1259.80,1095.77 L1261.80,1096.87 L1263.80,1097.97 L1265.80,1099.09 L1267.80,1100.21 L1269.80,1101.33 L1271.80,1102.47 L1273.80,1103.60 L1275.80,1104.75 L1277.80,1105.90 L1279.80,1107.06 L1281.80,1108.22 L1283.80,1109.39 L1285.80,1110.57 L1287.80,1111.75 L1289.80,1112.93 L1291.80,1114.12 L1293.80,1115.31 L1295.80,1116.51 L1297.80,1117.71 L1299.80,1118.92 L1301.80,1120.13 L1303.80,1121.34 L1305.80,1122.56 L1307.80,1123.78 L1309.80,1125.00 L1311.80,1126.23 L1313.80,1127.46 L1315.80,1128.69 L1317.80,1129.92 L1319.80,1131.15 L1321.80,1132.39 L1323.80,1133.63 L1325.80,1134.87 L1327.80,1136.11 L1329.80,1137.35 L1331.80,1138.59 L1333.80,1139.83 L1335.80,1141.07 L1337.80,1142.32 L1339.80,1143.56 L1341.80,1144.80 L1343.80,1146.04 L1345.80,1147.29 L1347.80,1148.53 L1349.80,1149.76 L1351.80,1151.00 L1353.80,1152.24 L1355.80,1153.47 L1357.80,1154.71 L1359.80,1155.94 L1361.80,1157.17 L1363.80,1158.39 L1365.80,1159.62 L1367.80,1160.84 L1369.80,1162.06 L1371.80,1163.27 L1373.80,1164.48 L1375.80,1165.69 L1377.80,1166.89 L1379.80,1168.09 L1381.80,1169.29 L1383.80,1170.48 L1385.80,1171.66 L1387.80,1172.85 L1389.80,1174.02 L1391.80,1175.19 L1393.80,1176.36 L1395.80,1177.52 L1397.80,1178.67 L1399.80,1179.82 L1401.80,1180.96 L1403.80,1182.10 L1405.80,1183.22 L1407.80,1184.35 L1409.80,1185.46 L1411.80,1186.57 L1413.80,1187.67 L1415.80,1188.76 L1417.80,1189.84 L1419.80,1190.92 L1421.80,1191.99 L1423.80,1193.05 L1425.80,1194.10 L1427.80,1195.14 L1429.80,1196.17 L1431.80,1197.20 L1433.80,1198.21 L1435.80,1199.22 L1437.80,1200.21 L1439.80,1201.20" fill="none" stroke-width="5.5" stroke-linejoin="round"/>
<circle cx="977.70" cy="1085.40" r="10"/>
<circle cx="1063.10" cy="1024.60" r="10"/>
<circle cx="1147.70" cy="1010.20" r="10"/>
<circle cx="1232.90" cy="1039.70" r="10"/>
<line x1="373.00" y1="1427.20" x2="373.00" y2="2049.50" stroke-width="2.7" stroke-dasharray="2.7 6.85"/>
<circle cx="192.40" cy="2008.18" r="4.3"/>
<circle cx="206.60" cy="1992.37" r="4.3"/>
<circle cx="221.70" cy="1976.58" r="4.3"/>
<circle cx="237.45" cy="1961.22" r="4.3"/>
<circle cx="253.25" cy="1946.91" r="4.3"/>
<circle cx="269.00" cy="1933.73" r="4.3"/>
<circle cx="284.80" cy="1921.55" r="4.3"/>
<circle cx="300.60" cy="1910.39" r="4.3"/>
<circle cx="316.35" cy="1900.25" r="4.3"/>
<circle cx="332.15" cy="1891.04" r="4.3"/>
<circle cx="347.90" cy="1882.79" r="4.3"/>
<circle cx="363.70" cy="1875.42" r="4.3"/>
<circle cx="379.50" cy="1868.92" r="4.3"/>
<circle cx="395.25" cy="1863.29" r="4.3"/>
<circle cx="411.05" cy="1858.45" r="4.3"/>
<circle cx="426.80" cy="1854.42" r="4.3"/>
<circle cx="442.60" cy="1851.13" r="4.3"/>
<circle cx="458.40" cy="1848.57" r="4.3"/>
<circle cx="474.15" cy="1846.72" r="4.3"/>
<circle cx="489.95" cy="1845.54" r="4.3"/>
<circle cx="505.75" cy="1845.00" r="4.3"/>
<circle cx="521.50" cy="1845.08" r="4.3"/>
<circle cx="537.30" cy="1845.74" r="4.3"/>
<circle cx="553.05" cy="1846.95" r="4.3"/>
<circle cx="568.85" cy="1848.70" r="4.3"/>
<circle cx="584.65" cy="1850.95" r="4.3"/>
<circle cx="600.40" cy="1853.66" r="4.3"/>
<circle cx="616.20" cy="1856.81" r="4.3"/>
<circle cx="632.00" cy="1860.39" r="4.3"/>
<circle cx="647.75" cy="1864.33" r="4.3"/>
<circle cx="663.55" cy="1868.64" r="4.3"/>
<circle cx="679.30" cy="1873.26" r="4.3"/>
<circle cx="695.10" cy="1878.19" r="4.3"/>
<circle cx="710.90" cy="1883.40" r="4.3"/>
<circle cx="726.65" cy="1888.82" r="4.3"/>
<circle cx="742.45" cy="1894.47" r="4.3"/>
<circle cx="758.20" cy="1900.29" r="4.3"/>
<path d="M189.50,1627.86 L190.50,1627.82 L191.50,1627.78 L192.50,1627.74 L193.50,1627.72 L194.50,1627.71 L195.50,1627.71 L196.50,1627.73 L197.50,1627.76 L198.50,1627.81 L199.50,1627.87 L200.50,1627.96 L201.50,1628.07 L202.50,1628.21 L203.50,1628.37 L204.50,1628.56 L205.50,1628.77 L206.50,1629.02 L207.50,1629.30 L208.50,1629.61 L209.50,1629.96 L210.50,1630.34 L211.50,1630.76 L212.50,1631.23 L213.15,1631.55 M224.50,1640.01 L225.50,1641.00 L226.50,1642.01 L227.50,1643.07 L228.50,1644.15 L229.50,1645.27 L230.50,1646.42 L231.50,1647.60 L232.50,1648.81 L233.50,1650.05 L234.50,1651.32 L235.50,1652.61 L236.50,1653.93 L237.50,1655.28 L238.50,1656.65 L239.50,1658.05 L240.50,1659.47 L241.50,1660.91 L242.50,1662.38 L243.05,1663.19 M250.65,1675.01 L251.65,1676.64 L252.65,1678.27 L253.65,1679.92 L254.65,1681.59 L255.65,1683.26 L256.65,1684.94 L257.65,1686.63 L258.65,1688.34 L259.65,1690.04 L260.65,1691.76 L261.65,1693.48 L262.65,1695.21 L263.65,1696.94 L264.50,1698.41 M271.20,1710.06 L272.20,1711.79 L273.20,1713.52 L274.20,1715.25 L275.20,1716.97 L276.20,1718.70 L277.20,1720.42 L278.20,1722.13 L279.20,1723.84 L280.20,1725.55 L281.20,1727.26 L282.20,1728.96 L283.20,1730.66 L284.20,1732.35 L284.80,1733.36 M291.80,1745.07 L292.80,1746.72 L293.80,1748.37 L294.80,1750.01 L295.80,1751.64 L296.80,1753.27 L297.80,1754.89 L298.80,1756.51 L299.80,1758.12 L300.80,1759.72 L301.80,1761.32 L302.80,1762.91 L303.80,1764.50 L304.80,1766.07 L305.80,1767.64 L306.20,1768.27 M313.85,1780.00 L314.85,1781.50 L315.85,1782.99 L316.85,1784.47 L317.85,1785.94 L318.85,1787.41 L319.85,1788.86 L320.85,1790.31 L321.85,1791.74 L322.85,1793.17 L323.85,1794.59 L324.85,1795.99 L325.85,1797.39 L326.85,1798.78 L327.85,1800.16 L328.85,1801.52 L329.85,1802.88 L330.00,1803.08 M339.20,1815.03 L340.20,1816.27 L341.20,1817.50 L342.20,1818.71 L343.20,1819.92 L344.20,1821.11 L345.20,1822.30 L346.20,1823.47 L347.20,1824.63 L348.20,1825.78 L349.20,1826.92 L350.20,1828.04 L351.20,1829.16 L352.20,1830.27 L353.20,1831.37 L354.20,1832.45 L355.20,1833.53 L356.20,1834.59 L357.20,1835.65 L358.20,1836.69 L359.20,1837.73 L359.45,1837.99 M371.45,1849.65 L372.45,1850.56 L373.45,1851.47 L374.45,1852.37 L375.45,1853.25 L376.45,1854.13 L377.45,1855.01 L378.45,1855.87 L379.45,1856.73 L380.45,1857.58 L381.45,1858.42 L382.45,1859.25 L383.45,1860.07 L384.45,1860.89 L385.45,1861.70 L386.45,1862.51 L387.45,1863.30 L388.45,1864.09 L389.45,1864.87 L390.45,1865.65 L391.45,1866.42 L392.45,1867.18 L393.45,1867.93 L394.45,1868.68 L394.55,1868.76 M406.45,1877.19 L407.45,1877.86 L408.45,1878.53 L409.45,1879.20 L410.45,1879.85 L411.45,1880.51 L412.45,1881.15 L413.45,1881.80 L414.45,1882.44 L415.45,1883.07 L416.45,1883.70 L417.45,1884.33 L418.45,1884.95 L419.45,1885.57 L420.45,1886.18 L421.45,1886.79 L422.45,1887.40 L423.45,1888.00 L424.45,1888.59 L425.45,1889.19 L426.45,1889.78 L427.45,1890.37 L428.45,1890.95 L429.45,1891.53 L429.85,1891.76 M441.45,1898.18 L442.45,1898.71 L443.45,1899.24 L444.45,1899.77 L445.45,1900.29 L446.45,1900.80 L447.45,1901.32 L448.45,1901.83 L449.45,1902.33 L450.45,1902.84 L451.45,1903.34 L452.45,1903.83 L453.45,1904.33 L454.45,1904.82 L455.45,1905.30 L456.45,1905.78 L457.45,1906.26 L458.45,1906.74 L459.45,1907.21 L460.45,1907.68 L461.45,1908.15 L462.45,1908.61 L463.45,1909.07 L464.45,1909.53 L465.25,1909.89 M476.45,1914.77 L477.45,1915.18 L478.45,1915.60 L479.45,1916.01 L480.45,1916.42 L481.45,1916.82 L482.45,1917.22 L483.45,1917.62 L484.45,1918.02 L485.45,1918.41 L486.45,1918.80 L487.45,1919.19 L488.45,1919.58 L489.45,1919.96 L490.45,1920.34 L491.45,1920.71 L492.45,1921.09 L493.45,1921.46 L494.45,1921.83 L495.45,1922.19 L496.45,1922.56 L497.45,1922.92 L498.45,1923.28 L499.45,1923.63 L500.45,1923.98 L500.70,1924.07 M511.45,1927.70 L512.45,1928.02 L513.45,1928.34 L514.45,1928.66 L515.45,1928.98 L516.45,1929.29 L517.45,1929.60 L518.45,1929.91 L519.45,1930.22 L520.45,1930.52 L521.45,1930.82 L522.45,1931.12 L523.45,1931.42 L524.45,1931.72 L525.45,1932.01 L526.45,1932.30 L527.45,1932.59 L528.45,1932.88 L529.45,1933.16 L530.45,1933.44 L531.45,1933.73 L532.45,1934.00 L533.45,1934.28 L534.45,1934.56 L535.45,1934.83 L536.15,1935.02 M546.45,1937.70 L547.45,1937.95 L548.45,1938.20 L549.45,1938.44 L550.45,1938.69 L551.45,1938.93 L552.45,1939.17 L553.45,1939.41 L554.45,1939.65 L555.45,1939.88 L556.45,1940.12 L557.45,1940.35 L558.45,1940.58 L559.45,1940.81 L560.45,1941.04 L561.45,1941.27 L562.45,1941.49 L563.45,1941.72 L564.45,1941.94 L565.45,1942.16 L566.45,1942.38 L567.45,1942.59 L568.45,1942.81 L569.45,1943.02 L570.45,1943.24 L571.45,1943.45 L571.50,1943.46 M581.45,1945.49 L582.45,1945.69 L583.45,1945.89 L584.45,1946.08 L585.45,1946.27 L586.45,1946.47 L587.45,1946.66 L588.45,1946.85 L589.45,1947.04 L590.45,1947.23 L591.45,1947.41 L592.45,1947.60 L593.45,1947.79 L594.45,1947.97 L595.45,1948.15 L596.45,1948.33 L597.45,1948.52 L598.45,1948.70 L599.45,1948.88 L600.45,1949.05 L601.45,1949.23 L602.45,1949.41 L603.45,1949.58 L604.45,1949.76 L605.45,1949.93 L606.45,1950.11 L606.70,1950.15 M616.45,1951.79 L617.45,1951.95 L618.45,1952.12 L619.45,1952.28 L620.45,1952.44 L621.45,1952.60 L622.45,1952.76 L623.45,1952.92 L624.45,1953.07 L625.45,1953.23 L626.45,1953.39 L627.45,1953.54 L628.45,1953.69 L629.45,1953.85 L630.45,1954.00 L631.45,1954.15 L632.45,1954.30 L633.45,1954.45 L634.45,1954.60 L635.45,1954.75 L636.45,1954.89 L637.45,1955.04 L638.45,1955.19 L639.45,1955.33 L640.45,1955.47 L641.45,1955.62 L641.90,1955.68 M651.45,1957.00 L652.45,1957.13 L653.45,1957.26 L654.45,1957.39 L655.45,1957.52 L656.45,1957.65 L657.45,1957.78 L658.45,1957.91 L659.45,1958.04 L660.45,1958.16 L661.45,1958.29 L662.45,1958.41 L663.45,1958.54 L664.45,1958.66 L665.45,1958.78 L666.45,1958.90 L667.45,1959.02 L668.45,1959.14 L669.45,1959.26 L670.45,1959.38 L671.45,1959.50 L672.45,1959.61 L673.45,1959.73 L674.45,1959.84 L675.45,1959.96 L676.45,1960.07 L677.10,1960.14 M686.45,1961.15 L687.45,1961.26 L688.45,1961.36 L689.45,1961.46 L690.45,1961.56 L691.45,1961.66 L692.45,1961.76 L693.45,1961.86 L694.45,1961.96 L695.45,1962.05 L696.45,1962.15 L697.45,1962.25 L698.45,1962.34 L699.45,1962.43 L700.45,1962.53 L701.45,1962.62 L702.45,1962.71 L703.45,1962.80 L704.45,1962.89 L705.45,1962.98 L706.45,1963.06 L707.45,1963.15 L708.45,1963.24 L709.45,1963.32 L710.45,1963.41 L711.45,1963.49 L712.30,1963.56 M721.45,1964.28 L722.45,1964.35 L723.45,1964.43 L724.45,1964.50 L725.45,1964.57 L726.45,1964.64 L727.45,1964.71 L728.45,1964.78 L729.45,1964.85 L730.45,1964.92 L731.45,1964.99 L732.45,1965.05 L733.45,1965.12 L734.45,1965.18 L735.45,1965.25 L736.45,1965.31 L737.45,1965.37 L738.45,1965.43 L739.45,1965.49 L740.45,1965.55 L741.45,1965.61 L742.45,1965.67 L743.45,1965.73 L744.45,1965.79 L745.45,1965.84 L746.45,1965.90 L747.45,1965.95 L747.50,1965.95 M756.45,1966.40 L757.45,1966.45 L758.45,1966.49 L759.45,1966.54 L759.60,1966.54" fill="none" stroke-width="5.5"/>
<path d="M191.60,1919.96 L193.60,1912.18 L195.59,1904.59 L197.59,1897.19 L199.58,1889.97 L201.58,1882.92 L203.58,1876.05 L205.57,1869.35 L207.57,1862.82 L209.57,1856.46 L211.56,1850.26 L213.56,1844.22 L215.55,1838.33 L217.55,1832.60 L219.55,1827.02 L221.54,1821.58 L223.54,1816.28 L225.53,1811.13 L227.53,1806.11 L229.53,1801.23 L231.52,1796.48 L233.52,1791.85 L235.51,1787.35 L237.51,1782.97 L239.51,1778.70 L241.50,1774.55 L243.50,1770.52 L245.50,1766.59 L247.49,1762.76 L249.49,1759.04 L251.48,1755.41 L253.48,1751.88 L255.48,1748.44 L257.47,1745.09 L259.47,1741.83 L261.46,1738.65 L263.46,1735.55 L265.46,1732.54 L267.45,1729.60 L269.45,1726.75 L271.45,1723.97 L273.44,1721.28 L275.44,1718.66 L277.43,1716.12 L279.43,1713.66 L281.43,1711.27 L283.42,1708.96 L285.42,1706.72 L287.41,1704.55 L289.41,1702.46 L291.41,1700.44 L293.40,1698.49 L295.40,1696.61 L297.39,1694.80 L299.39,1693.06 L301.39,1691.38 L303.38,1689.78 L305.38,1688.24 L307.38,1686.76 L309.37,1685.35 L311.37,1684.01 L313.36,1682.72 L315.36,1681.50 L317.36,1680.34 L319.35,1679.25 L321.35,1678.21 L323.34,1677.23 L325.34,1676.31 L327.34,1675.45 L329.33,1674.64 L331.33,1673.89 L333.32,1673.20 L335.32,1672.56 L337.32,1671.97 L339.31,1671.44 L341.31,1670.96 L343.31,1670.53 L345.30,1670.15 L347.30,1669.82 L349.29,1669.54 L351.29,1669.31 L353.29,1669.12 L355.28,1668.98 L357.28,1668.89 L359.27,1668.85 L361.27,1668.84 L363.27,1668.89 L365.26,1668.97 L367.26,1669.10 L369.26,1669.26 L371.25,1669.47 L373.25,1669.72 L375.24,1670.00 L377.24,1670.33 L379.24,1670.69 L381.23,1671.09 L383.23,1671.52 L385.22,1671.99 L387.22,1672.49 L389.22,1673.03 L391.21,1673.60 L393.21,1674.20 L395.20,1674.83 L397.20,1675.49 L399.20,1676.18 L401.19,1676.90 L403.19,1677.65 L405.19,1678.43 L407.18,1679.23 L409.18,1680.05 L411.17,1680.90 L413.17,1681.78 L415.17,1682.68 L417.16,1683.60 L419.16,1684.54 L421.15,1685.50 L423.15,1686.49 L425.15,1687.49 L427.14,1688.51 L429.14,1689.55 L431.14,1690.61 L433.13,1691.68 L435.13,1692.77 L437.12,1693.87 L439.12,1694.99 L441.12,1696.13 L443.11,1697.28 L445.11,1698.45 L447.10,1699.64 L449.10,1700.84 L451.10,1702.05 L453.09,1703.28 L455.09,1704.53 L457.08,1705.79 L459.08,1707.06 L461.08,1708.35 L463.07,1709.66 L465.07,1710.97 L467.07,1712.30 L469.06,1713.65 L471.06,1715.01 L473.05,1716.38 L475.05,1717.76 L477.05,1719.16 L479.04,1720.57 L481.04,1721.99 L483.03,1723.43 L485.03,1724.88 L487.03,1726.34 L489.02,1727.81 L491.02,1729.29 L493.02,1730.79 L495.01,1732.30 L497.01,1733.81 L499.00,1735.34 L501.00,1736.89 L503.00,1738.44 L504.99,1740.00 L506.99,1741.57 L508.98,1743.15 L510.98,1744.75 L512.98,1746.35 L514.97,1747.96 L516.97,1749.59 L518.96,1751.22 L520.96,1752.86 L522.96,1754.51 L524.95,1756.17 L526.95,1757.84 L528.95,1759.51 L530.94,1761.20 L532.94,1762.89 L534.93,1764.59 L536.93,1766.30 L538.93,1768.02 L540.92,1769.75 L542.92,1771.48 L544.91,1773.22 L546.91,1774.96 L548.91,1776.72 L550.90,1778.48 L552.90,1780.25 L554.90,1782.02 L556.89,1783.80 L558.89,1785.59 L560.88,1787.38 L562.88,1789.17 L564.88,1790.98 L566.87,1792.79 L568.87,1794.60 L570.86,1796.42 L572.86,1798.24 L574.86,1800.07 L576.85,1801.90 L578.85,1803.74 L580.84,1805.58 L582.84,1807.43 L584.84,1809.28 L586.83,1811.13 L588.83,1812.99 L590.83,1814.85 L592.82,1816.71 L594.82,1818.58 L596.81,1820.45 L598.81,1822.32 L600.81,1824.20 L602.80,1826.07 L604.80,1827.95 L606.79,1829.84 L608.79,1831.72 L610.79,1833.60 L612.78,1835.49 L614.78,1837.38 L616.77,1839.27 L618.77,1841.16 L620.77,1843.05 L622.76,1844.94 L624.76,1846.83 L626.76,1848.73 L628.75,1850.62 L630.75,1852.51 L632.74,1854.40 L634.74,1856.30 L636.74,1858.19 L638.73,1860.08 L640.73,1861.97 L642.72,1863.86 L644.72,1865.75 L646.72,1867.63 L648.71,1869.52 L650.71,1871.40 L652.71,1873.28 L654.70,1875.16 L656.70,1877.04 L658.69,1878.92 L660.69,1880.79 L662.69,1882.66 L664.68,1884.53 L666.68,1886.39 L668.67,1888.25 L670.67,1890.11 L672.67,1891.96 L674.66,1893.81 L676.66,1895.66 L678.65,1897.50 L680.65,1899.34 L682.65,1901.17 L684.64,1903.00 L686.64,1904.83 L688.64,1906.65 L690.63,1908.46 L692.63,1910.27 L694.62,1912.08 L696.62,1913.87 L698.62,1915.67 L700.61,1917.45 L702.61,1919.24 L704.60,1921.01 L706.60,1922.78 L708.60,1924.54 L710.59,1926.29 L712.59,1928.04 L714.59,1929.78 L716.58,1931.52 L718.58,1933.24 L720.57,1934.96 L722.57,1936.67 L724.57,1938.38 L726.56,1940.07 L728.56,1941.76 L730.55,1943.44 L732.55,1945.11 L734.55,1946.77 L736.54,1948.42 L738.54,1950.06 L740.53,1951.69 L742.53,1953.32 L744.53,1954.93 L746.52,1956.54 L748.52,1958.13 L750.52,1959.72 L752.51,1961.29 L754.51,1962.86 L756.50,1964.41 L758.50,1965.95" fill="none" stroke-width="5.5" stroke-linejoin="round"/>
<circle cx="297.50" cy="1661.20" r="10"/>
<circle cx="382.20" cy="1686.70" r="10"/>
<circle cx="467.00" cy="1722.40" r="10"/>
<circle cx="552.20" cy="1816.20" r="10"/>
</g>
<g font-family='"Liberation Sans", Arial, sans-serif' fill="#000">
<text x="110.00" y="27.80" font-size="27.5" text-anchor="end">1200</text>
<text x="110.00" y="181.78" font-size="27.5" text-anchor="end">1000</text>
<text x="110.00" y="340.35" font-size="27.5" text-anchor="end">800</text>
<text x="110.00" y="496.63" font-size="27.5" text-anchor="end">600</text>
<text x="110.00" y="652.90" font-size="27.5" text-anchor="end">400</text>
<text x="106.50" y="733.80" font-size="27.5" text-anchor="end">1200</text>
<text x="106.50" y="890.05" font-size="27.5" text-anchor="end">1000</text>
<text x="106.50" y="1046.30" font-size="27.5" text-anchor="end">800</text>
<text x="106.50" y="1202.55" font-size="27.5" text-anchor="end">600</text>
<text x="106.50" y="1358.80" font-size="27.5" text-anchor="end">400</text>
<text x="108.30" y="1433.50" font-size="27.5" text-anchor="end">1200</text>
<text x="108.30" y="1590.33" font-size="27.5" text-anchor="end">1000</text>
<text x="108.30" y="1747.15" font-size="27.5" text-anchor="end">800</text>
<text x="108.30" y="1903.97" font-size="27.5" text-anchor="end">600</text>
<text x="108.30" y="2060.80" font-size="27.5" text-anchor="end">400</text>
<text x="129.50" y="690.60" font-size="27.5" text-anchor="middle">0</text>
<text x="209.30" y="690.60" font-size="27.5" text-anchor="middle">2</text>
<text x="289.10" y="690.60" font-size="27.5" text-anchor="middle">4</text>
<text x="368.90" y="690.60" font-size="27.5" text-anchor="middle">6</text>
<text x="448.70" y="690.60" font-size="27.5" text-anchor="middle">8</text>
<text x="528.50" y="690.60" font-size="27.5" text-anchor="middle">10</text>
<text x="608.30" y="690.60" font-size="27.5" text-anchor="middle">12</text>
<text x="688.10" y="690.60" font-size="27.5" text-anchor="middle">14</text>
<text x="767.90" y="690.60" font-size="27.5" text-anchor="middle">16</text>
<text x="819.40" y="690.60" font-size="27.5" text-anchor="middle">0</text>
<text x="894.92" y="690.60" font-size="27.5" text-anchor="middle">2</text>
<text x="970.44" y="690.60" font-size="27.5" text-anchor="middle">4</text>
<text x="1045.96" y="690.60" font-size="27.5" text-anchor="middle">6</text>
<text x="1121.48" y="690.60" font-size="27.5" text-anchor="middle">8</text>
<text x="1197.00" y="690.60" font-size="27.5" text-anchor="middle">10</text>
<text x="1272.52" y="690.60" font-size="27.5" text-anchor="middle">12</text>
<text x="1348.04" y="690.60" font-size="27.5" text-anchor="middle">14</text>
<text x="1423.56" y="690.60" font-size="27.5" text-anchor="middle">16</text>
<text x="1499.08" y="690.60" font-size="27.5" text-anchor="middle">18</text>
<text x="127.20" y="1396.40" font-size="27.5" text-anchor="middle">0</text>
<text x="207.00" y="1396.40" font-size="27.5" text-anchor="middle">2</text>
<text x="286.80" y="1396.40" font-size="27.5" text-anchor="middle">4</text>
<text x="366.60" y="1396.40" font-size="27.5" text-anchor="middle">6</text>
<text x="446.40" y="1396.40" font-size="27.5" text-anchor="middle">8</text>
<text x="526.20" y="1396.40" font-size="27.5" text-anchor="middle">10</text>
<text x="606.00" y="1396.40" font-size="27.5" text-anchor="middle">12</text>
<text x="685.80" y="1396.40" font-size="27.5" text-anchor="middle">14</text>
<text x="765.60" y="1396.40" font-size="27.5" text-anchor="middle">16</text>
<text x="807.50" y="1392.70" font-size="27.5" text-anchor="middle">0</text>
<text x="884.40" y="1392.70" font-size="27.5" text-anchor="middle">2</text>
<text x="959.80" y="1392.70" font-size="27.5" text-anchor="middle">4</text>
<text x="1035.20" y="1392.70" font-size="27.5" text-anchor="middle">6</text>
<text x="1110.60" y="1392.70" font-size="27.5" text-anchor="middle">8</text>
<text x="1186.00" y="1392.70" font-size="27.5" text-anchor="middle">10</text>
<text x="1261.40" y="1392.70" font-size="27.5" text-anchor="middle">12</text>
<text x="1336.80" y="1392.70" font-size="27.5" text-anchor="middle">14</text>
<text x="1412.20" y="1392.70" font-size="27.5" text-anchor="middle">16</text>
<text x="1487.60" y="1392.70" font-size="27.5" text-anchor="middle">18</text>
<text x="127.50" y="2097.00" font-size="27.5" text-anchor="middle">0</text>
<text x="202.96" y="2097.00" font-size="27.5" text-anchor="middle">2</text>
<text x="278.42" y="2097.00" font-size="27.5" text-anchor="middle">4</text>
<text x="353.88" y="2097.00" font-size="27.5" text-anchor="middle">6</text>
<text x="429.34" y="2097.00" font-size="27.5" text-anchor="middle">8</text>
<text x="504.80" y="2097.00" font-size="27.5" text-anchor="middle">10</text>
<text x="580.26" y="2097.00" font-size="27.5" text-anchor="middle">12</text>
<text x="655.72" y="2097.00" font-size="27.5" text-anchor="middle">14</text>
<text x="731.18" y="2097.00" font-size="27.5" text-anchor="middle">16</text>
<text x="806.64" y="2097.00" font-size="27.5" text-anchor="middle">18</text>
<text x="1519.50" y="27.80" font-size="27.5" text-anchor="start">400</text>
<text x="1586.00" y="27.80" font-size="27.5" text-anchor="start">20</text>
<text x="1519.50" y="181.78" font-size="27.5" text-anchor="start">300</text>
<text x="1586.00" y="181.78" font-size="27.5" text-anchor="start">15</text>
<text x="1519.50" y="340.35" font-size="27.5" text-anchor="start">200</text>
<text x="1586.00" y="340.35" font-size="27.5" text-anchor="start">10</text>
<text x="1519.50" y="496.63" font-size="27.5" text-anchor="start">100</text>
<text x="1586.00" y="496.63" font-size="27.5" text-anchor="start">5</text>
<text x="1519.50" y="652.90" font-size="27.5" text-anchor="start">0</text>
<text x="1586.00" y="652.90" font-size="27.5" text-anchor="start">0</text>
<text x="1508.30" y="729.80" font-size="27.5" text-anchor="start">400</text>
<text x="1584.50" y="729.80" font-size="27.5" text-anchor="start">20</text>
<text x="1508.30" y="886.05" font-size="27.5" text-anchor="start">300</text>
<text x="1584.50" y="886.05" font-size="27.5" text-anchor="start">15</text>
<text x="1508.30" y="1042.30" font-size="27.5" text-anchor="start">200</text>
<text x="1584.50" y="1042.30" font-size="27.5" text-anchor="start">10</text>
<text x="1508.30" y="1198.55" font-size="27.5" text-anchor="start">100</text>
<text x="1584.50" y="1198.55" font-size="27.5" text-anchor="start">5</text>
<text x="1508.30" y="1354.80" font-size="27.5" text-anchor="start">0</text>
<text x="1584.50" y="1354.80" font-size="27.5" text-anchor="start">0</text>
<text x="827.50" y="1433.50" font-size="27.5" text-anchor="start">400</text>
<text x="905.50" y="1433.50" font-size="27.5" text-anchor="start">20</text>
<text x="827.50" y="1590.33" font-size="27.5" text-anchor="start">300</text>
<text x="905.50" y="1590.33" font-size="27.5" text-anchor="start">15</text>
<text x="827.50" y="1747.15" font-size="27.5" text-anchor="start">200</text>
<text x="905.50" y="1747.15" font-size="27.5" text-anchor="start">10</text>
<text x="827.50" y="1903.97" font-size="27.5" text-anchor="start">100</text>
<text x="905.50" y="1903.97" font-size="27.5" text-anchor="start">5</text>
<text x="827.50" y="2060.80" font-size="27.5" text-anchor="start">0</text>
<text x="905.50" y="2060.80" font-size="27.5" text-anchor="start">0</text>
<text x="697.10" y="64.95" font-size="35" textLength="103.50" lengthAdjust="spacingAndGlyphs">ZD958</text>
<text x="1389.00" y="67.00" font-size="35" textLength="102.00" lengthAdjust="spacingAndGlyphs">XY335</text>
<text x="686.00" y="773.35" font-size="32.3" textLength="93.80" lengthAdjust="spacingAndGlyphs">DH661</text>
<text x="1379.10" y="769.35" font-size="32.9" textLength="95.10" lengthAdjust="spacingAndGlyphs">YN103</text>
<text x="689.00" y="1477.70" font-size="32.4" textLength="99.50" lengthAdjust="spacingAndGlyphs">ZD808</text>
<text transform="translate(34.25,1270.00) rotate(-90)" font-size="36.2" textLength="360.00" lengthAdjust="spacingAndGlyphs">Grain yield per unit area</text>
<text transform="translate(1537.80,1602.70) rotate(-90)" font-size="35" textLength="218.40" lengthAdjust="spacingAndGlyphs">Yield per plant</text>
<text transform="translate(1599.15,1601.10) rotate(-90)" font-size="35" textLength="196.90" lengthAdjust="spacingAndGlyphs">Ear numbers</text>
<text transform="translate(1638.85,1591.50) rotate(-90)" font-size="35" textLength="191.00" lengthAdjust="spacingAndGlyphs">per unit area</text>
<text x="1127.20" y="1649.40" font-size="31" textLength="330.30" lengthAdjust="spacingAndGlyphs">Grain yield per unit area</text>
<text x="1126.90" y="1715.50" font-size="31" textLength="198.00" lengthAdjust="spacingAndGlyphs">Yield per plant</text>
<text x="1130.10" y="1782.10" font-size="31" textLength="360.20" lengthAdjust="spacingAndGlyphs">Ear numbers per unit area</text>
<text x="1128.10" y="1864.00" font-size="35" textLength="407.00" lengthAdjust="spacingAndGlyphs">Grain yield of standard plot</text>
<text x="694" y="2197.9" font-size="34">Density(plants m<tspan font-size="22" dy="-17">-2</tspan><tspan dy="17">)</tspan></text>
</g>
<g stroke="#000" fill="#000">
<line x1="995.3" y1="1638.5" x2="1070.7" y2="1638.5" stroke-width="6"/>
<line x1="995.3" y1="1705.3" x2="1093.5" y2="1705.3" stroke-width="6.3" stroke-dasharray="29.3 5.3"/>
<path d="M997.40,1771.7 L1002.30,1767.9 L1007.20,1771.7 L1002.30,1775.5 Z" stroke="none"/>
<path d="M1012.70,1771.7 L1017.60,1767.9 L1022.50,1771.7 L1017.60,1775.5 Z" stroke="none"/>
<path d="M1027.90,1771.7 L1032.80,1767.9 L1037.70,1771.7 L1032.80,1775.5 Z" stroke="none"/>
<path d="M1043.30,1771.7 L1048.20,1767.9 L1053.10,1771.7 L1048.20,1775.5 Z" stroke="none"/>
<path d="M1058.10,1771.7 L1063.00,1767.9 L1067.90,1771.7 L1063.00,1775.5 Z" stroke="none"/>
<circle cx="1052.4" cy="1853.7" r="10" stroke="none"/>
</g>
</svg></body></html>
